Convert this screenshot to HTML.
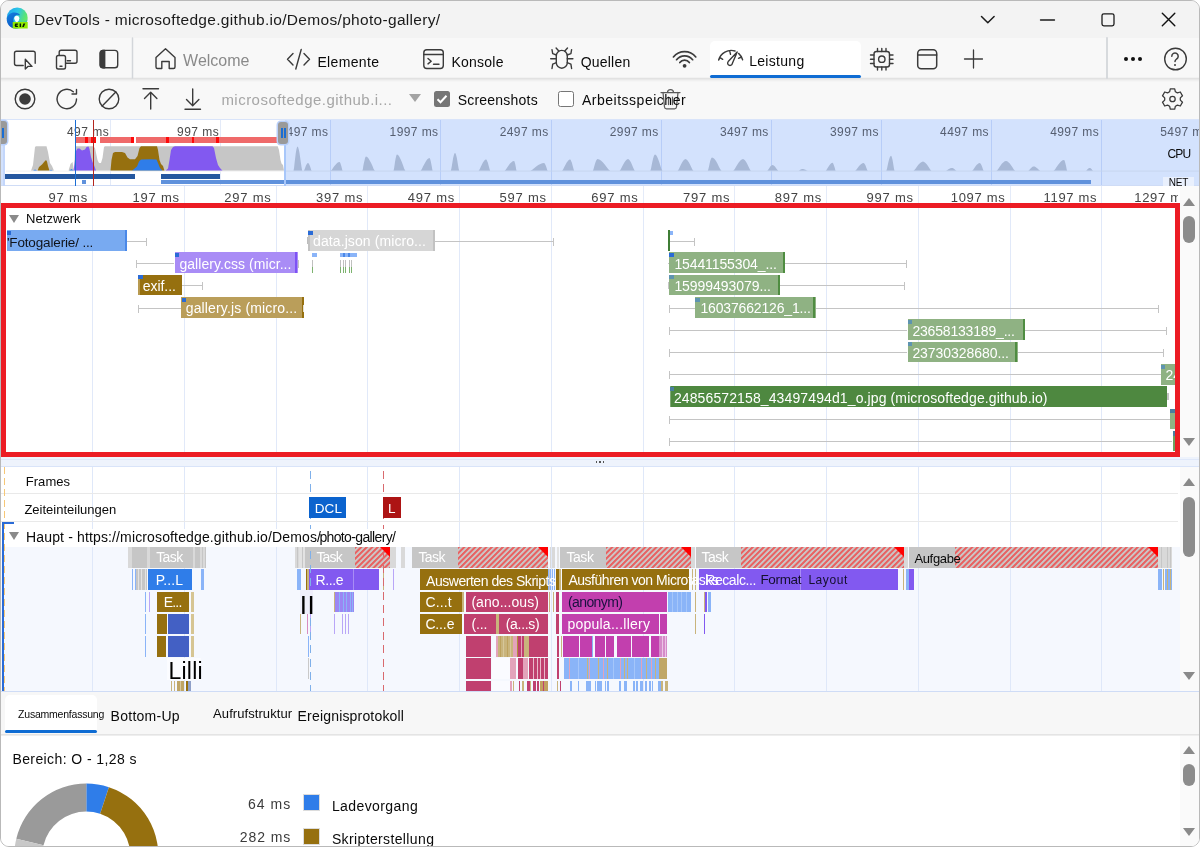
<!DOCTYPE html>
<html lang="de"><head><meta charset="utf-8"><title>DevTools - microsoftedge.github.io/Demos/photo-gallery/</title>
<style>
html,body{margin:0;padding:0;background:#fff;}
body{width:1200px;height:847px;overflow:hidden;position:relative;font-family:"Liberation Sans",sans-serif;}
#win{position:absolute;left:0;top:0;width:1198px;height:845px;border:1px solid #b9b9b9;border-radius:9px;overflow:hidden;background:#f3f3f3;}
#c{position:absolute;left:-1px;top:-1px;width:1200px;height:847px;}
.t{position:absolute;white-space:nowrap;}
.r{position:absolute;}
svg{position:absolute;overflow:visible;}
.ic{fill:none;stroke:#3b3b3b;stroke-width:1.4;stroke-linecap:round;stroke-linejoin:round;}
.hatch{position:absolute;background:repeating-linear-gradient(135deg,#e86262 0,#e86262 1.2px,#ccc5c5 2px,#ccc5c5 3.1px,#e86262 3.9px);}
.tri{position:absolute;width:0;height:0;border-top:10px solid #ff0000;border-left:10px solid transparent;}
.clip{position:absolute;overflow:hidden;}
</style></head><body><div id="win"><div id="c">
<div class="r" style="left:0.00px;top:0.00px;width:1200.00px;height:38.00px;background:#f3f3f3;"></div>
<div class="r" style="left:0.00px;top:38.00px;width:1200.00px;height:42.00px;background:#f8f8f8;"></div>
<div class="r" style="left:0.00px;top:80.00px;width:1200.00px;height:39.00px;background:#f8f8f8;"></div>
<div class="r" style="left:0.00px;top:77.00px;width:1200.00px;height:1.00px;background:#f2f2f2;"></div>
<div class="r" style="left:0.00px;top:78.00px;width:1200.00px;height:1.00px;background:#e2e2e2;"></div>
<div class="r" style="left:0.00px;top:79.00px;width:1200.00px;height:1.00px;background:#e9e9e9;"></div>
<div class="r" style="left:0.00px;top:80.00px;width:1200.00px;height:1.00px;background:#f0f0f0;"></div>
<div class="r" style="left:0.00px;top:81.00px;width:1200.00px;height:1.00px;background:#f5f5f5;"></div>
<svg style="left:0;top:0" width="40" height="40" viewBox="0 0 40 40">
<defs><linearGradient id="eg" x1="0" y1="0.2" x2="1" y2="0.6"><stop offset="0" stop-color="#1fa6ee"/><stop offset="0.45" stop-color="#2cc6e6"/><stop offset="0.8" stop-color="#56e27c"/><stop offset="1" stop-color="#6aec62"/></linearGradient>
<linearGradient id="eg2" x1="0" y1="0" x2="0.6" y2="1"><stop offset="0" stop-color="#1583e0"/><stop offset="1" stop-color="#0a50c0"/></linearGradient></defs>
<circle cx="17.200" cy="18" r="10.500" fill="url(#eg)"/>
<path d="M6.800 18.500c.6-3.400 3.600-6 7.600-6 2.600 0 4.700 1.100 5.700 2.700-1.300-.600-2.600-.700-3.700-.300-2.600 1-3.600 3.800-2.900 6.600.6 2.600 2.600 5 5.300 6.500-1 .300-2.100.500-3.200.500-5.400 0-9.300-4.600-8.800-10z" fill="url(#eg2)"/>
<path d="M19.300 21.300c1.700.9 4.200.7 6.200-.3 1-.5 1.800-1.300 2.200-2-.2 2.500-1.500 4.800-3.400 6.400h-6.300c-1.600-1.500-2.200-3.300-2.300-4.300z" fill="#2ab1d8" opacity="0.550"/>
<circle cx="16.800" cy="18.300" r="2.500" fill="#ffffff"/>
<path d="M15 19.500c0 1.200.6 2.300 1.600 3.200l2.300-2.200-1.500-2z" fill="#ffffff"/>
<rect x="12.700" y="22" width="15" height="6.500" fill="#8fe900"/>
<path d="M15.300 23.600h2.600v1.200h-1.400v.9h1.400v1.300h-2.600l-.7-1.700z M19.600 23.600h1.500v3.400h-1.500z M23.400 23.600h1.900l-1.500 3.400h-1.600z" fill="#061a00"/>
</svg>
<span class="t" style="left:33.90px;top:12.00px;font-size:15.5px;line-height:15.5px;color:#1a1a1a;letter-spacing:0.311px;">DevTools - microsoftedge.github.io/Demos/photo-gallery/</span>
<svg style="left:975px;top:8px" width="210" height="24" viewBox="975 8 210 24" class="ic" stroke="#1b1b1b">
<path d="M981.500 16.500l6.300 6.300 6.300-6.300" stroke="#1b1b1b" stroke-width="1.500"/>
<path d="M1040.500 20h14" stroke="#1b1b1b" stroke-width="1.300"/>
<rect x="1102" y="13.800" width="12" height="12" rx="1.800" stroke="#1b1b1b" stroke-width="1.300"/>
<path d="M1162.300 13.300l12.500 12.500M1174.800 13.300l-12.500 12.500" stroke="#111" stroke-width="1.400"/>
</svg>
<svg style="left:0;top:38px" width="1200" height="42" viewBox="0 38 1200 42" class="ic">
<!-- inspect -->
<path d="M23.200 65.500h-6.700a2 2 0 0 1-2-2v-10.300a2 2 0 0 1 2-2h16.700a2 2 0 0 1 2 2v10"/>
<path d="M25.300 59.300v9.700l2.600-2.600h4.100z" />
<!-- device -->
<path d="M59.200 54.800v-2.600a2 2 0 0 1 2-2h13.800a2 2 0 0 1 2 2v9a2 2 0 0 1-2 2h-8.800"/>
<rect x="56.500" y="55.500" width="9" height="13.500" rx="1.800"/>
<path d="M60 66.200h2M67.200 60.700h3.300"/>
<!-- dock -->
<rect x="100.200" y="50.400" width="17.500" height="17.300" rx="2.800"/>
<path d="M100.200 53.200a2.800 2.800 0 0 1 2.800-2.800h1.700v17.300h-1.700a2.800 2.800 0 0 1-2.800-2.800z" fill="#3b3b3b"/>
<!-- sep -->
<path d="M132.500 38v40" stroke="#d3d6da" stroke-width="1.500"/>
<!-- home -->
<path d="M156 57.500l9.500-8.700 9.500 8.700v9.500a1.500 1.500 0 0 1-1.500 1.500h-4.300v-7h-7.400v7h-4.300a1.500 1.500 0 0 1-1.500-1.500z"/>
<!-- elements -->
<path d="M293 53.500l-5.500 5.700 5.500 5.700M304 53.500l5.500 5.700-5.500 5.700M301.200 49.500l-5.400 19.500"/>
<!-- console -->
<rect x="423.800" y="49.700" width="19.500" height="18.800" rx="3"/>
<path d="M423.800 54.500h19.500M428 58.500l3.200 2.700-3.200 2.700M433.500 64.200h5.500"/>
<!-- bug -->
<rect x="556.300" y="50.400" width="11" height="17.800" rx="5.500"/>
<path d="M558.800 51l-2.700-3M564.800 51l2.700-3M556.300 58.800h-5.600M567.300 58.800h5.600M556.400 55l-3.700-1.300-.7-4M567.200 55l3.700-1.300.7-4M556.400 62.600l-3.700 1.500-.7 4.400M567.200 62.600l3.700 1.500.7 4.400"/>
<!-- wifi -->
<path d="M673.41 56.94A14.4 14.4 0 0 1 695.79 56.94M676.56 59.72A10.2 10.2 0 0 1 692.64 59.72M679.83 62.53A5.9 5.9 0 0 1 689.37 62.53" stroke-width="1.700"/>
<circle cx="684.600" cy="65.800" r="1.900" fill="#3b3b3b" stroke="none"/>
</svg>
<span class="t" style="left:183.10px;top:53.00px;font-size:16px;line-height:16px;color:#8a8a8a;letter-spacing:-0.022px;">Welcome</span>
<span class="t" style="left:317.40px;top:55.00px;font-size:14px;line-height:14px;color:#0a0a0a;letter-spacing:0.342px;">Elemente</span>
<span class="t" style="left:451.40px;top:55.00px;font-size:14px;line-height:14px;color:#0a0a0a;letter-spacing:0.241px;">Konsole</span>
<span class="t" style="left:580.70px;top:55.00px;font-size:14px;line-height:14px;color:#0a0a0a;letter-spacing:0.214px;">Quellen</span>
<div class="r" style="left:709.50px;top:40.50px;width:151.00px;height:37.00px;background:#ffffff;border-radius:5px 5px 0 0;"></div>
<div class="r" style="left:709.50px;top:74.80px;width:151.00px;height:3.60px;background:#0f6cd3;border-radius:2px;"></div>
<span class="t" style="left:749.20px;top:54.00px;font-size:14px;line-height:14px;color:#0a0a0a;letter-spacing:0.301px;">Leistung</span>
<svg style="left:0;top:38px" width="1200" height="42" viewBox="0 38 1200 42" class="ic">
<!-- gauge -->
<path d="M718.600 60a13 13 0 0 1 16.400-9M738.600 53.400a13 13 0 0 1 4 6.400M718.600 60l1.500-2.300 2.600 1.600M729.700 50.800l.8 3.600M742.600 59.800l-1.300-2.800-2.800 1.300"/>
<path d="M737.200 52l-4.900 11.600a2.350 2.350 0 1 1-4.100-2z"/>
<!-- cpu -->
<rect x="874" y="51.500" width="15.500" height="15.500" rx="2.500"/>
<circle cx="881.800" cy="59.200" r="3.200"/>
<path d="M877.500 48.500v3M881.800 48.500v3M886 48.500v3M877.500 67v3M881.800 67v3M886 67v3M870.500 55h3.500M870.500 59.200h3.500M870.500 63.500h3.500M889.500 55h3.500M889.500 59.200h3.500M889.500 63.500h3.500"/>
<!-- window -->
<rect x="917.700" y="49.700" width="19" height="19" rx="3.500" stroke-width="1.500"/>
<path d="M917.700 55h19" stroke-width="1.500"/>
<!-- plus -->
<path d="M964.500 59h18M973.500 50v18" stroke-width="1.300"/>
<!-- sep -->
<path d="M1107 38v40" stroke="#d3d6da" stroke-width="1.800"/>
<!-- help -->
<circle cx="1175.500" cy="59" r="10.800"/>
<path d="M1171.800 56.200a3.200 3.200 0 1 1 4.800 2.800c-1 .7-1.600 1.300-1.600 2.600" stroke-width="1.500"/>
<circle cx="1175" cy="65" r="1" fill="#3b3b3b" stroke="none"/>
</svg>
<div class="r" style="left:1124px;top:57px;width:4px;height:4px;border-radius:2px;background:#111"></div>
<div class="r" style="left:1131px;top:57px;width:4px;height:4px;border-radius:2px;background:#111"></div>
<div class="r" style="left:1138.3px;top:57px;width:4px;height:4px;border-radius:2px;background:#111"></div>
<svg style="left:0;top:80px" width="1200" height="40" viewBox="0 80 1200 40" class="ic">
<circle cx="25" cy="99" r="9.800"/><circle cx="25" cy="99" r="5.800" fill="#3b3b3b" stroke="none"/>
<path d="M76.500 99a9.700 9.700 0 1 1-3.200-7.200M76.500 89.500v4.500h-4.500" />
<circle cx="109" cy="99" r="9.800"/><path d="M102.200 106l13.600-14"/>
<path d="M143 88.800h15.500M150.700 109v-16.500M144.500 98.500l6.200-6.200 6.200 6.200"/>
<path d="M185 109.200h15.500M192.700 89v16.500M186.500 99.500l6.200 6.200 6.200-6.200"/>
<!-- trash -->
<path stroke="#5a5a5a" stroke-width="1.250" d="M661 92.500h19M667.500 92.500a3 3 0 0 1 6 0M663 92.500l1.500 14.500a2 2 0 0 0 2 1.800h8a2 2 0 0 0 2-1.800l1.500-14.500M668.500 97v7.500M672.500 97v7.500"/>
<!-- gear -->
<path d="M1170.300 88.800h4.400l.7 3 2 1.100 2.900-.9 2.200 3.800-2.200 2.100v2.200l2.200 2.100-2.200 3.800-2.900-.9-2 1.100-.7 3h-4.400l-.7-3-2-1.100-2.900.9-2.200-3.800 2.200-2.100v-2.200l-2.200-2.100 2.200-3.800 2.900.9 2-1.100z" stroke-width="1.300"/>
<circle cx="1172.500" cy="99" r="2.700" stroke-width="1.300"/>
</svg>
<span class="t" style="left:221.40px;top:92.00px;font-size:15px;line-height:15px;color:#a6a6a6;letter-spacing:0.475px;">microsoftedge.github.i...</span>
<div class="r" style="left:408.500px;top:94px;width:0;height:0;border-left:6px solid transparent;border-right:6px solid transparent;border-top:8px solid #a3a3a3"></div>
<div class="r" style="left:434.00px;top:91.00px;width:16.00px;height:16.00px;background:#767676;border-radius:2.500px;"></div>
<svg style="left:434px;top:91px" width="16" height="16" viewBox="0 0 16 16"><path d="M3.500 8.300l3 3 6-6.500" fill="none" stroke="#fff" stroke-width="2"/></svg>
<span class="t" style="left:457.70px;top:93.00px;font-size:14px;line-height:14px;color:#0a0a0a;letter-spacing:0.212px;">Screenshots</span>
<div class="r" style="left:558.00px;top:91.00px;width:14.00px;height:14.00px;background:#ffffff;border:1px solid #767676;border-radius:2.500px;"></div>
<span class="t" style="left:581.90px;top:93.00px;font-size:14px;line-height:14px;color:#0a0a0a;letter-spacing:0.518px;">Arbeitsspeicher</span>
<div class="r" style="left:0.00px;top:119.00px;width:1200.00px;height:67.00px;background:#d3e2fd;"></div>
<div class="r" style="left:3.00px;top:119.00px;width:282.00px;height:67.00px;background:#ffffff;"></div>
<div class="r" style="left:0.00px;top:119.00px;width:1200.00px;height:1.00px;background:#d9e4fa;"></div>
<div class="r" style="left:110.10px;top:120.00px;width:1.00px;height:65.00px;background:#e3eaf8;"></div>
<div class="r" style="left:220.20px;top:120.00px;width:1.00px;height:65.00px;background:#e3eaf8;"></div>
<div class="r" style="left:330.30px;top:120.00px;width:1.00px;height:65.00px;background:#b7cdf8;"></div>
<div class="r" style="left:440.40px;top:120.00px;width:1.00px;height:65.00px;background:#b7cdf8;"></div>
<div class="r" style="left:550.50px;top:120.00px;width:1.00px;height:65.00px;background:#b7cdf8;"></div>
<div class="r" style="left:660.60px;top:120.00px;width:1.00px;height:65.00px;background:#b7cdf8;"></div>
<div class="r" style="left:770.70px;top:120.00px;width:1.00px;height:65.00px;background:#b7cdf8;"></div>
<div class="r" style="left:880.80px;top:120.00px;width:1.00px;height:65.00px;background:#b7cdf8;"></div>
<div class="r" style="left:990.90px;top:120.00px;width:1.00px;height:65.00px;background:#b7cdf8;"></div>
<div class="r" style="left:1101.00px;top:120.00px;width:1.00px;height:65.00px;background:#b7cdf8;"></div>
<div class="r" style="left:1211.10px;top:120.00px;width:1.00px;height:65.00px;background:#b7cdf8;"></div>
<div class="clip" style="left:0;top:119px;width:1200px;height:67px">
<span class="t" style="left:66.98px;top:7.00px;font-size:12px;line-height:12px;color:#4a4a4a;letter-spacing:0.461px;">497 ms</span>
<span class="t" style="left:177.08px;top:7.00px;font-size:12px;line-height:12px;color:#4a4a4a;letter-spacing:0.461px;">997 ms</span>
<span class="t" style="left:279.49px;top:7.00px;font-size:12px;line-height:12px;color:#555e70;letter-spacing:0.412px;">1497 ms</span>
<span class="t" style="left:389.59px;top:7.00px;font-size:12px;line-height:12px;color:#555e70;letter-spacing:0.412px;">1997 ms</span>
<span class="t" style="left:499.69px;top:7.00px;font-size:12px;line-height:12px;color:#555e70;letter-spacing:0.412px;">2497 ms</span>
<span class="t" style="left:609.79px;top:7.00px;font-size:12px;line-height:12px;color:#555e70;letter-spacing:0.412px;">2997 ms</span>
<span class="t" style="left:719.89px;top:7.00px;font-size:12px;line-height:12px;color:#555e70;letter-spacing:0.412px;">3497 ms</span>
<span class="t" style="left:829.99px;top:7.00px;font-size:12px;line-height:12px;color:#555e70;letter-spacing:0.412px;">3997 ms</span>
<span class="t" style="left:940.09px;top:7.00px;font-size:12px;line-height:12px;color:#555e70;letter-spacing:0.412px;">4497 ms</span>
<span class="t" style="left:1050.19px;top:7.00px;font-size:12px;line-height:12px;color:#555e70;letter-spacing:0.412px;">4997 ms</span>
<span class="t" style="left:1160.29px;top:7.00px;font-size:12px;line-height:12px;color:#555e70;letter-spacing:0.412px;">5497 ms</span>
</div>
<svg style="left:0;top:0" width="1200" height="190" viewBox="0 0 1200 190">
<path fill="#c6c6c6" d="M31.0 170.8 L33.0 165.0 L35.0 147.0 L36.0 146.2 L46.5 146.2 L48.0 152.0 L50.0 163.0 L52.0 166.0 L54.0 170.8Z"/>
<path fill="#c6c6c6" d="M68.5 170.8 L70.5 164.0 L72.5 162.0 L74.0 170.8Z"/>
<path fill="#c6c6c6" d="M74.0 170.8 L75.0 150.0 L76.0 146.2 L89.0 146.2 L93.0 146.2 L95.0 148.0 L97.5 160.0 L99.0 163.0 L101.0 163.0 L102.5 158.0 L104.0 147.0 L105.0 146.2 L277.7 146.2 L279.0 150.0 L280.5 160.0 L281.5 163.5 L283.0 165.0 L284.0 170.8Z"/>
<path fill="#96700f" d="M37.5 170.8 L39.0 167.0 L42.0 164.5 L44.5 161.5 L46.0 160.0 L47.0 161.5 L48.0 166.0 L49.5 170.8Z"/>
<path fill="#2f7de9" d="M33.0 170.8 L35.0 169.6 L37.5 170.8Z"/>
<path fill="#2f7de9" d="M49.0 170.8 L51.0 169.8 L53.0 170.8Z"/>
<path fill="#2f7de9" d="M69.0 170.8 L71.5 169.0 L74.0 170.8Z"/>
<path fill="#8259f0" d="M73.5 170.8 L74.5 164.0 L76.0 151.0 L77.5 148.5 L79.5 148.5 L82.0 150.5 L85.0 149.5 L86.5 147.0 L88.5 146.5 L89.5 149.0 L91.0 157.0 L92.5 162.0 L94.0 165.0 L96.0 170.8Z"/>
<path fill="#96700f" d="M110.5 170.8 L111.5 160.0 L113.0 153.0 L115.0 152.0 L122.0 152.0 L125.0 153.0 L127.5 157.5 L130.0 159.2 L135.0 159.2 L137.5 156.0 L139.5 148.0 L141.0 146.2 L157.0 146.2 L158.0 150.0 L159.5 160.0 L161.0 164.0 L163.0 166.0 L164.5 170.8Z"/>
<path fill="#2f7de9" d="M132.0 170.8 L134.0 169.0 L137.0 166.5 L139.0 161.5 L141.0 159.6 L150.0 159.2 L156.5 159.6 L158.0 163.0 L160.0 168.0 L162.5 170.8Z"/>
<path fill="#8259f0" d="M165.5 170.8 L168.0 168.5 L169.5 160.0 L171.0 150.0 L173.0 147.0 L175.0 146.2 L212.5 146.2 L214.0 148.0 L216.0 158.0 L218.0 165.0 L220.0 168.0 L222.5 170.8Z"/>
<path fill="#a7b8d6" d="M293.5 170.8 L294.1 167.6 L294.6 162.8 L295.2 157.7 L295.8 153.1 L296.4 149.4 L297.0 147.2 L297.5 146.5 L298.1 147.2 L298.8 149.4 L299.5 153.1 L300.2 157.7 L300.9 162.8 L301.6 167.6 L302.2 170.8Z"/>
<path fill="#a7b8d6" d="M303.8 170.8 L304.4 169.8 L305.0 168.2 L305.6 166.6 L306.2 165.1 L306.9 163.9 L307.4 163.2 L308.0 163.0 L308.5 163.2 L309.0 163.9 L309.5 165.1 L310.1 166.6 L310.7 168.2 L311.1 169.8 L311.7 170.8Z"/>
<path fill="#a7b8d6" d="M330.6 170.8 L331.9 169.7 L333.0 167.9 L334.4 166.0 L335.8 164.4 L337.1 163.1 L338.3 162.3 L339.5 162.0 L339.9 162.3 L340.3 163.1 L340.8 164.4 L341.3 166.0 L341.8 167.9 L342.2 169.7 L342.6 170.8Z"/>
<path fill="#a7b8d6" d="M362.3 170.8 L362.9 168.9 L363.3 166.1 L363.9 163.1 L364.5 160.4 L365.0 158.2 L365.5 156.9 L366.0 156.5 L367.2 156.9 L368.4 158.2 L369.7 160.4 L371.1 163.1 L372.5 166.1 L373.6 168.9 L374.9 170.8Z"/>
<path fill="#a7b8d6" d="M393.5 170.8 L394.0 168.7 L394.5 165.4 L395.0 162.0 L395.5 158.9 L396.1 156.5 L396.5 155.0 L397.0 154.5 L398.1 155.0 L399.2 156.5 L400.5 158.9 L401.8 162.0 L403.1 165.4 L404.2 168.7 L405.4 170.8Z"/>
<path fill="#a7b8d6" d="M420.6 170.8 L421.9 169.1 L423.0 166.6 L424.4 163.9 L425.8 161.5 L427.1 159.5 L428.3 158.4 L429.5 158.0 L429.9 158.4 L430.3 159.5 L430.8 161.5 L431.3 163.9 L431.8 166.6 L432.2 169.1 L432.6 170.8Z"/>
<path fill="#a7b8d6" d="M450.8 170.8 L451.4 168.5 L452.0 164.9 L452.6 161.2 L453.2 157.8 L453.9 155.1 L454.4 153.5 L455.0 153.0 L455.6 153.5 L456.1 155.1 L456.8 157.8 L457.4 161.2 L458.0 164.9 L458.6 168.5 L459.2 170.8Z"/>
<path fill="#a7b8d6" d="M478.6 170.8 L479.7 169.3 L480.7 167.1 L481.8 164.7 L482.9 162.6 L484.0 160.9 L485.0 159.8 L486.0 159.5 L486.6 159.8 L487.1 160.9 L487.8 162.6 L488.4 164.7 L489.0 167.1 L489.6 169.3 L490.2 170.8Z"/>
<path fill="#a7b8d6" d="M504.6 170.8 L505.9 169.5 L507.2 167.6 L508.6 165.5 L510.0 163.6 L511.5 162.2 L512.7 161.3 L514.0 161.0 L514.4 161.3 L514.7 162.2 L515.1 163.6 L515.5 165.5 L515.9 167.6 L516.2 169.5 L516.6 170.8Z"/>
<path fill="#a7b8d6" d="M530.4 170.8 L532.3 169.8 L534.1 168.2 L536.2 166.6 L538.3 165.1 L540.4 163.9 L542.2 163.2 L544.0 163.0 L544.5 163.2 L545.0 163.9 L545.5 165.1 L546.1 166.6 L546.7 168.2 L547.1 169.8 L547.7 170.8Z"/>
<path fill="#a7b8d6" d="M562.1 170.8 L563.2 169.3 L564.3 167.1 L565.5 164.7 L566.7 162.6 L567.9 160.9 L569.0 159.8 L570.0 159.5 L570.6 159.8 L571.1 160.9 L571.8 162.6 L572.4 164.7 L573.0 167.1 L573.6 169.3 L574.2 170.8Z"/>
<path fill="#a7b8d6" d="M592.8 170.8 L593.5 169.3 L594.1 166.9 L594.8 164.4 L595.5 162.2 L596.2 160.4 L596.9 159.4 L597.5 159.0 L599.2 159.4 L600.9 160.4 L602.8 162.2 L604.7 164.4 L606.6 166.9 L608.3 169.3 L610.1 170.8Z"/>
<path fill="#a7b8d6" d="M619.6 170.8 L620.8 169.3 L621.9 166.9 L623.2 164.4 L624.5 162.2 L625.8 160.4 L626.9 159.4 L628.0 159.0 L628.9 159.4 L629.8 160.4 L630.9 162.2 L631.9 164.4 L632.9 166.9 L633.9 169.3 L634.8 170.8Z"/>
<path fill="#a7b8d6" d="M650.3 170.8 L651.0 168.7 L651.6 165.4 L652.3 162.0 L653.0 158.9 L653.7 156.5 L654.4 155.0 L655.0 154.5 L656.0 155.0 L657.0 156.5 L658.1 158.9 L659.2 162.0 L660.3 165.4 L661.3 168.7 L662.4 170.8Z"/>
<path fill="#a7b8d6" d="M677.6 170.8 L678.8 169.3 L679.8 166.9 L681.0 164.4 L682.2 162.2 L683.4 160.4 L684.5 159.4 L685.5 159.0 L686.5 159.4 L687.6 160.4 L688.8 162.2 L690.0 164.4 L691.2 166.9 L692.2 169.3 L693.4 170.8Z"/>
<path fill="#a7b8d6" d="M707.8 170.8 L708.4 169.1 L709.0 166.4 L709.6 163.6 L710.2 161.1 L710.9 159.1 L711.4 157.9 L712.0 157.5 L713.3 157.9 L714.5 159.1 L716.0 161.1 L717.4 163.6 L718.8 166.4 L720.1 169.1 L721.5 170.8Z"/>
<path fill="#a7b8d6" d="M733.2 170.8 L734.6 169.3 L735.9 166.9 L737.4 164.4 L738.9 162.2 L740.4 160.4 L741.7 159.4 L743.0 159.0 L744.0 159.4 L745.1 160.4 L746.3 162.2 L747.5 164.4 L748.7 166.9 L749.8 169.3 L750.9 170.8Z"/>
<path fill="#a7b8d6" d="M767.2 170.8 L768.0 170.0 L768.7 168.9 L769.5 167.7 L770.3 166.6 L771.1 165.7 L771.8 165.2 L772.5 165.0 L773.3 165.2 L774.0 165.7 L774.9 166.6 L775.8 167.7 L776.7 168.9 L777.5 170.0 L778.3 170.8Z"/>
<path fill="#a7b8d6" d="M798.5 170.8 L799.1 170.6 L799.6 170.2 L800.2 169.8 L800.8 169.5 L801.4 169.2 L802.0 169.1 L802.5 169.0 L803.2 169.1 L803.9 169.2 L804.7 169.5 L805.5 169.8 L806.3 170.2 L807.0 170.6 L807.8 170.8Z"/>
<path fill="#a7b8d6" d="M825.7 170.8 L826.6 169.7 L827.6 168.1 L828.6 166.4 L829.6 164.9 L830.7 163.7 L831.6 162.9 L832.5 162.7 L832.9 162.9 L833.3 163.7 L833.8 164.9 L834.3 166.4 L834.8 168.1 L835.2 169.7 L835.6 170.8Z"/>
<path fill="#a7b8d6" d="M855.1 170.8 L856.3 169.8 L857.4 168.2 L858.7 166.6 L860.0 165.1 L861.3 163.9 L862.4 163.2 L863.5 163.0 L864.1 163.2 L864.6 163.9 L865.3 165.1 L865.9 166.6 L866.5 168.2 L867.1 169.8 L867.7 170.8Z"/>
<path fill="#a7b8d6" d="M886.3 170.8 L887.0 168.8 L887.6 165.8 L888.3 162.6 L889.0 159.8 L889.7 157.5 L890.4 156.2 L891.0 155.7 L891.5 156.2 L891.9 157.5 L892.5 159.8 L893.0 162.6 L893.5 165.8 L894.0 168.8 L894.5 170.8Z"/>
<path fill="#a7b8d6" d="M913.5 170.8 L914.9 169.6 L916.2 167.8 L917.6 165.8 L919.0 164.1 L920.5 162.7 L921.7 161.9 L923.0 161.6 L924.1 161.9 L925.2 162.7 L926.5 164.1 L927.8 165.8 L929.1 167.8 L930.2 169.6 L931.4 170.8Z"/>
<path fill="#a7b8d6" d="M945.7 170.8 L946.6 170.4 L947.4 169.9 L948.4 169.3 L949.4 168.8 L950.3 168.3 L951.2 168.1 L952.0 168.0 L952.6 168.1 L953.2 168.3 L953.9 168.8 L954.6 169.3 L955.3 169.9 L956.0 170.4 L956.6 170.8Z"/>
<path fill="#a7b8d6" d="M972.1 170.8 L973.2 169.8 L974.2 168.2 L975.4 166.6 L976.5 165.1 L977.7 163.9 L978.7 163.2 L979.7 163.0 L980.2 163.2 L980.8 163.9 L981.4 165.1 L982.0 166.6 L982.6 168.2 L983.1 169.8 L983.7 170.8Z"/>
<path fill="#a7b8d6" d="M996.5 170.8 L997.9 169.5 L999.2 167.6 L1000.6 165.5 L1002.0 163.6 L1003.5 162.2 L1004.7 161.3 L1006.0 161.0 L1007.2 161.3 L1008.4 162.2 L1009.8 163.6 L1011.2 165.5 L1012.6 167.6 L1013.8 169.5 L1015.1 170.8Z"/>
<path fill="#a7b8d6" d="M1028.2 170.8 L1029.0 170.2 L1029.7 169.4 L1030.6 168.5 L1031.4 167.7 L1032.2 167.0 L1033.0 166.6 L1033.7 166.5 L1034.6 166.6 L1035.5 167.0 L1036.5 167.7 L1037.5 168.5 L1038.5 169.4 L1039.4 170.2 L1040.3 170.8Z"/>
<path fill="#a7b8d6" d="M1053.5 170.8 L1055.0 169.4 L1056.4 167.2 L1058.0 165.0 L1059.6 162.9 L1061.2 161.3 L1062.6 160.3 L1064.0 160.0 L1064.4 160.3 L1064.8 161.3 L1065.3 162.9 L1065.8 165.0 L1066.3 167.2 L1066.7 169.4 L1067.2 170.8Z"/>
<path fill="#a7b8d6" d="M1085.8 170.8 L1086.4 170.4 L1086.9 169.9 L1087.5 169.3 L1088.1 168.8 L1088.7 168.3 L1089.2 168.1 L1089.7 168.0 L1090.2 168.1 L1090.6 168.3 L1091.2 168.8 L1091.7 169.3 L1092.2 169.9 L1092.7 170.4 L1093.2 170.8Z"/>
<path d="M286 171.10000000000002H1200" stroke="#c5d3ee" stroke-width="0.800"/>
<path d="M6 171.10000000000002H285" stroke="#ececec" stroke-width="0.800"/>
</svg>
<div class="r" style="left:76.00px;top:136.70px;width:20.20px;height:6.00px;background:#ef6a6a;"></div>
<div class="r" style="left:99.70px;top:136.70px;width:34.10px;height:6.00px;background:#ef6a6a;"></div>
<div class="r" style="left:136.00px;top:136.70px;width:141.50px;height:6.00px;background:#ef6a6a;"></div>
<div class="r" style="left:85.00px;top:136.70px;width:3.00px;height:6.00px;background:#ff0a0a;"></div>
<div class="r" style="left:91.00px;top:136.70px;width:5.20px;height:6.00px;background:#ff0a0a;"></div>
<div class="r" style="left:130.80px;top:136.70px;width:3.00px;height:6.00px;background:#ff0a0a;"></div>
<div class="r" style="left:165.70px;top:136.70px;width:3.30px;height:6.00px;background:#ff0a0a;"></div>
<div class="r" style="left:191.50px;top:136.70px;width:2.70px;height:6.00px;background:#ff0a0a;"></div>
<div class="r" style="left:215.80px;top:136.70px;width:3.40px;height:6.00px;background:#ff0a0a;"></div>
<div class="r" style="left:3.80px;top:174.40px;width:131.20px;height:4.60px;background:#24579f;"></div>
<div class="r" style="left:160.70px;top:174.40px;width:59.00px;height:4.60px;background:#24579f;"></div>
<div class="r" style="left:160.70px;top:180.20px;width:930.80px;height:3.60px;background:#5f91dc;"></div>
<div class="r" style="left:82.00px;top:180.20px;width:4.00px;height:4.00px;background:#5f91dc;"></div>
<div class="r" style="left:0.00px;top:184.60px;width:1200.00px;height:1.20px;background:#cfdcf6;"></div>
<div class="r" style="left:75.00px;top:120.00px;width:1.30px;height:65.50px;background:#1a6dd4;"></div>
<div class="r" style="left:93.20px;top:120.00px;width:1.30px;height:65.50px;background:#b3261e;"></div>
<div class="r" style="left:283.50px;top:144.00px;width:2.50px;height:41.50px;background:#a8c7fa;"></div>
<div class="r" style="left:3.00px;top:144.00px;width:1.50px;height:41.50px;background:#c4d7fb;"></div>
<div class="r" style="left:1.00px;top:121.30px;width:5.50px;height:23.00px;background:#9a9a9a;border-radius:0 3px 3px 0;box-shadow:0 0 0 1.500px #b9d0fb;"></div>
<div class="r" style="left:2.30px;top:128.00px;width:1.80px;height:9.50px;background:#1a6dd4;"></div>
<div class="r" style="left:277.70px;top:121.50px;width:10.50px;height:22.50px;background:#9a9a9a;border-radius:3px;box-shadow:0 0 0 1.500px #b9d0fb;"></div>
<div class="r" style="left:280.50px;top:128.00px;width:2.00px;height:9.50px;background:#1a6dd4;"></div>
<div class="r" style="left:284.30px;top:128.00px;width:2.00px;height:9.50px;background:#1a6dd4;"></div>
<span class="t" style="left:1167.40px;top:148.00px;font-size:12px;line-height:12px;color:#0a0a0a;letter-spacing:-0.758px;">CPU</span>
<div class="r" style="left:1163.00px;top:176.50px;width:31.00px;height:9.50px;background:#e9f0fd;"></div>
<span class="t" style="left:1168.80px;top:178.00px;font-size:10px;line-height:10px;color:#0a0a0a;letter-spacing:-0.200px;">NET</span>
<div class="r" style="left:0.00px;top:186.00px;width:1180.00px;height:20.00px;background:#ffffff;"></div>
<div class="r" style="left:1179.50px;top:186.00px;width:20.00px;height:505.00px;background:#fafafa;"></div>
<div class="clip" style="left:0;top:186px;width:1178px;height:20px">
<div class="r" style="left:92.00px;top:0.00px;width:1.00px;height:20.00px;background:#e4ebf9;"></div>
<span class="t" style="left:48.38px;top:5.00px;font-size:13px;line-height:13px;color:#444;letter-spacing:0.844px;">97 ms</span>
<div class="r" style="left:183.75px;top:0.00px;width:1.00px;height:20.00px;background:#e4ebf9;"></div>
<span class="t" style="left:132.59px;top:5.00px;font-size:13px;line-height:13px;color:#444;letter-spacing:0.755px;">197 ms</span>
<div class="r" style="left:275.50px;top:0.00px;width:1.00px;height:20.00px;background:#e4ebf9;"></div>
<span class="t" style="left:224.34px;top:5.00px;font-size:13px;line-height:13px;color:#444;letter-spacing:0.755px;">297 ms</span>
<div class="r" style="left:367.25px;top:0.00px;width:1.00px;height:20.00px;background:#e4ebf9;"></div>
<span class="t" style="left:316.09px;top:5.00px;font-size:13px;line-height:13px;color:#444;letter-spacing:0.755px;">397 ms</span>
<div class="r" style="left:459.00px;top:0.00px;width:1.00px;height:20.00px;background:#e4ebf9;"></div>
<span class="t" style="left:407.84px;top:5.00px;font-size:13px;line-height:13px;color:#444;letter-spacing:0.755px;">497 ms</span>
<div class="r" style="left:550.75px;top:0.00px;width:1.00px;height:20.00px;background:#e4ebf9;"></div>
<span class="t" style="left:499.59px;top:5.00px;font-size:13px;line-height:13px;color:#444;letter-spacing:0.755px;">597 ms</span>
<div class="r" style="left:642.50px;top:0.00px;width:1.00px;height:20.00px;background:#e4ebf9;"></div>
<span class="t" style="left:591.34px;top:5.00px;font-size:13px;line-height:13px;color:#444;letter-spacing:0.755px;">697 ms</span>
<div class="r" style="left:734.25px;top:0.00px;width:1.00px;height:20.00px;background:#e4ebf9;"></div>
<span class="t" style="left:683.09px;top:5.00px;font-size:13px;line-height:13px;color:#444;letter-spacing:0.755px;">797 ms</span>
<div class="r" style="left:826.00px;top:0.00px;width:1.00px;height:20.00px;background:#e4ebf9;"></div>
<span class="t" style="left:774.84px;top:5.00px;font-size:13px;line-height:13px;color:#444;letter-spacing:0.755px;">897 ms</span>
<div class="r" style="left:917.75px;top:0.00px;width:1.00px;height:20.00px;background:#e4ebf9;"></div>
<span class="t" style="left:866.59px;top:5.00px;font-size:13px;line-height:13px;color:#444;letter-spacing:0.755px;">997 ms</span>
<div class="r" style="left:1009.50px;top:0.00px;width:1.00px;height:20.00px;background:#e4ebf9;"></div>
<span class="t" style="left:950.77px;top:5.00px;font-size:13px;line-height:13px;color:#444;letter-spacing:0.695px;">1097 ms</span>
<div class="r" style="left:1101.25px;top:0.00px;width:1.00px;height:20.00px;background:#e4ebf9;"></div>
<span class="t" style="left:1043.55px;top:5.00px;font-size:13px;line-height:13px;color:#444;letter-spacing:0.687px;">1197 ms</span>
<div class="r" style="left:1193.00px;top:0.00px;width:1.00px;height:20.00px;background:#e4ebf9;"></div>
<span class="t" style="left:1134.27px;top:5.00px;font-size:13px;line-height:13px;color:#444;letter-spacing:0.695px;">1297 ms</span>
</div>
<div class="r" style="left:0.00px;top:206.00px;width:1180.00px;height:251.00px;background:#ffffff;"></div>
<div class="r" style="left:92.00px;top:206.00px;width:1.00px;height:251.00px;background:#e1e9f9;"></div>
<div class="r" style="left:183.75px;top:206.00px;width:1.00px;height:251.00px;background:#e1e9f9;"></div>
<div class="r" style="left:275.50px;top:206.00px;width:1.00px;height:251.00px;background:#e1e9f9;"></div>
<div class="r" style="left:367.25px;top:206.00px;width:1.00px;height:251.00px;background:#e1e9f9;"></div>
<div class="r" style="left:459.00px;top:206.00px;width:1.00px;height:251.00px;background:#e1e9f9;"></div>
<div class="r" style="left:550.75px;top:206.00px;width:1.00px;height:251.00px;background:#e1e9f9;"></div>
<div class="r" style="left:642.50px;top:206.00px;width:1.00px;height:251.00px;background:#e1e9f9;"></div>
<div class="r" style="left:734.25px;top:206.00px;width:1.00px;height:251.00px;background:#e1e9f9;"></div>
<div class="r" style="left:826.00px;top:206.00px;width:1.00px;height:251.00px;background:#e1e9f9;"></div>
<div class="r" style="left:917.75px;top:206.00px;width:1.00px;height:251.00px;background:#e1e9f9;"></div>
<div class="r" style="left:1009.50px;top:206.00px;width:1.00px;height:251.00px;background:#e1e9f9;"></div>
<div class="r" style="left:1101.25px;top:206.00px;width:1.00px;height:251.00px;background:#e1e9f9;"></div>
<div class="r" style="left:9.300px;top:215px;width:0;height:0;border-left:5.300px solid transparent;border-right:5.300px solid transparent;border-top:8.300px solid #8a8a8a"></div>
<span class="t" style="left:26.10px;top:212.00px;font-size:13px;line-height:13px;color:#0a0a0a;letter-spacing:0.036px;">Netzwerk</span>
<div class="r" style="left:127.00px;top:241.00px;width:19.70px;height:1.00px;background:#c4c4c4;"></div>
<div class="r" style="left:146.00px;top:237.50px;width:1.00px;height:8.00px;background:#c4c4c4;"></div>
<div class="clip" style="left:6.70px;top:230.10px;width:120.30px;height:20.5px;background:#78aaf1">
<div class="r" style="left:118.00px;top:0.00px;width:2.30px;height:20.50px;background:#4a88e8;"></div>
<div class="r" style="left:0.30px;top:0.50px;width:4.50px;height:4.20px;background:#2a6bd6;"></div>
<span class="t" style="left:0.20px;top:5.90px;font-size:13.5px;line-height:13.5px;color:#10131a;letter-spacing:-0.149px;">'Fotogalerie/ ...</span>
</div>
<div class="r" style="left:435.00px;top:241.00px;width:118.50px;height:1.00px;background:#c4c4c4;"></div>
<div class="r" style="left:553.00px;top:237.50px;width:1.00px;height:8.00px;background:#c4c4c4;"></div>
<div class="r" style="left:306.50px;top:237.00px;width:1.50px;height:7.00px;background:#bdbdbd;"></div>
<div class="clip" style="left:308.00px;top:230.10px;width:127.00px;height:20.5px;background:#d6d6d6">
<div class="r" style="left:124.70px;top:0.00px;width:2.30px;height:20.50px;background:#c2c2c2;"></div>
<div class="r" style="left:0.00px;top:0.00px;width:1.50px;height:20.50px;background:#c2c2c2;"></div>
<div class="r" style="left:0.30px;top:0.50px;width:4.50px;height:4.20px;background:#2a6bd6;"></div>
<span class="t" style="left:5.10px;top:3.90px;font-size:14px;line-height:14px;color:#fff;letter-spacing:0.088px;">data.json (micro...</span>
</div>
<div class="r" style="left:668.00px;top:230.10px;width:2.00px;height:20.50px;background:#3f7d35;"></div>
<div class="r" style="left:670.00px;top:231.20px;width:2.50px;height:3.40px;background:#8ab4f8;"></div>
<div class="r" style="left:670.00px;top:241.00px;width:24.40px;height:1.00px;background:#c4c4c4;"></div>
<div class="r" style="left:694.00px;top:237.50px;width:1.00px;height:8.00px;background:#c4c4c4;"></div>
<div class="r" style="left:136.70px;top:263.00px;width:37.80px;height:1.00px;background:#c4c4c4;"></div>
<div class="r" style="left:136.00px;top:259.50px;width:1.00px;height:8.00px;background:#c4c4c4;"></div>
<div class="clip" style="left:174.50px;top:252.42px;width:123.00px;height:20.5px;background:#a98cf6">
<div class="r" style="left:120.70px;top:0.00px;width:2.30px;height:20.50px;background:#7e52f5;"></div>
<div class="r" style="left:0.30px;top:0.50px;width:4.50px;height:4.20px;background:#2a6bd6;"></div>
<span class="t" style="left:4.90px;top:4.58px;font-size:14px;line-height:14px;color:#fff;letter-spacing:0.056px;">gallery.css (micr...</span>
</div>
<div class="r" style="left:297.50px;top:260.00px;width:1.30px;height:7.50px;background:#c4c4c4;"></div>
<div class="r" style="left:312.00px;top:253.02px;width:5.30px;height:4.20px;background:#8ab4f8;"></div>
<div class="r" style="left:312.00px;top:259.92px;width:1.30px;height:7.00px;background:#c0c0c0;"></div>
<div class="r" style="left:312.00px;top:266.92px;width:0.80px;height:6.00px;background:#7db36f;"></div>
<div class="r" style="left:339.50px;top:253.02px;width:3.00px;height:4.20px;background:#8ab4f8;"></div>
<div class="r" style="left:339.50px;top:259.92px;width:1.20px;height:7.00px;background:#c0c0c0;"></div>
<div class="r" style="left:339.50px;top:266.92px;width:0.80px;height:6.00px;background:#7db36f;"></div>
<div class="r" style="left:342.50px;top:253.02px;width:2.50px;height:4.20px;background:#8ab4f8;"></div>
<div class="r" style="left:342.50px;top:259.92px;width:1.20px;height:7.00px;background:#c0c0c0;"></div>
<div class="r" style="left:342.50px;top:266.92px;width:0.80px;height:6.00px;background:#7db36f;"></div>
<div class="r" style="left:345.00px;top:253.02px;width:3.50px;height:4.20px;background:#8ab4f8;"></div>
<div class="r" style="left:345.00px;top:259.92px;width:1.20px;height:7.00px;background:#c0c0c0;"></div>
<div class="r" style="left:345.00px;top:266.92px;width:0.80px;height:6.00px;background:#7db36f;"></div>
<div class="r" style="left:348.50px;top:253.02px;width:2.00px;height:4.20px;background:#8ab4f8;"></div>
<div class="r" style="left:348.50px;top:259.92px;width:1.20px;height:7.00px;background:#c0c0c0;"></div>
<div class="r" style="left:348.50px;top:266.92px;width:0.80px;height:6.00px;background:#7db36f;"></div>
<div class="r" style="left:351.00px;top:253.02px;width:6.00px;height:4.20px;background:#8ab4f8;"></div>
<div class="r" style="left:351.00px;top:259.92px;width:1.20px;height:7.00px;background:#c0c0c0;"></div>
<div class="r" style="left:351.00px;top:266.92px;width:0.80px;height:6.00px;background:#7db36f;"></div>
<div class="r" style="left:343.00px;top:253.02px;width:2.00px;height:4.20px;background:#4a88e8;"></div>
<div class="r" style="left:348.00px;top:253.02px;width:1.50px;height:4.20px;background:#4a88e8;"></div>
<div class="r" style="left:668.00px;top:263.00px;width:1.50px;height:1.00px;background:#c4c4c4;"></div>
<div class="clip" style="left:669.00px;top:252.42px;width:116.00px;height:20.5px;background:#8fb283">
<div class="r" style="left:113.70px;top:0.00px;width:2.30px;height:20.50px;background:#4f8d41;"></div>
<div class="r" style="left:0.30px;top:0.50px;width:4.50px;height:4.20px;background:#2a6bd6;"></div>
<span class="t" style="left:5.40px;top:4.58px;font-size:14px;line-height:14px;color:#fff;letter-spacing:-0.109px;">15441155304_...</span>
</div>
<div class="r" style="left:785.00px;top:263.00px;width:122.00px;height:1.00px;background:#c4c4c4;"></div>
<div class="r" style="left:906.00px;top:259.50px;width:1.00px;height:8.00px;background:#c4c4c4;"></div>
<div class="clip" style="left:138.00px;top:274.74px;width:44.00px;height:20.5px;background:#96700f">
<div class="r" style="left:0.00px;top:0.00px;width:1.50px;height:20.50px;background:#b89a50;"></div>
<div class="r" style="left:0.30px;top:0.50px;width:4.50px;height:4.20px;background:#2a6bd6;"></div>
<span class="t" style="left:4.70px;top:4.26px;font-size:14px;line-height:14px;color:#fff;letter-spacing:-0.036px;">exif...</span>
</div>
<div class="r" style="left:182.00px;top:285.00px;width:20.50px;height:1.00px;background:#c4c4c4;"></div>
<div class="r" style="left:202.00px;top:281.50px;width:1.00px;height:8.00px;background:#c4c4c4;"></div>
<div class="clip" style="left:669.00px;top:274.74px;width:111.00px;height:20.5px;background:#8fb283">
<div class="r" style="left:108.70px;top:0.00px;width:2.30px;height:20.50px;background:#4f8d41;"></div>
<div class="r" style="left:0.30px;top:0.50px;width:4.50px;height:4.20px;background:#5e94b0;"></div>
<span class="t" style="left:5.40px;top:4.26px;font-size:14px;line-height:14px;color:#fff;letter-spacing:-0.060px;">15999493079...</span>
</div>
<div class="r" style="left:780.00px;top:285.00px;width:124.40px;height:1.00px;background:#c4c4c4;"></div>
<div class="r" style="left:904.00px;top:281.50px;width:1.00px;height:8.00px;background:#c4c4c4;"></div>
<div class="r" style="left:667.50px;top:281.50px;width:1.30px;height:7.50px;background:#c4c4c4;"></div>
<div class="r" style="left:138.30px;top:308.00px;width:43.00px;height:1.00px;background:#c4c4c4;"></div>
<div class="r" style="left:138.00px;top:304.50px;width:1.00px;height:8.00px;background:#c4c4c4;"></div>
<div class="clip" style="left:181.30px;top:297.06px;width:123.00px;height:20.5px;background:#ba9e5a">
<div class="r" style="left:120.70px;top:0.00px;width:2.30px;height:20.50px;background:#96700f;"></div>
<div class="r" style="left:0.30px;top:0.50px;width:4.50px;height:4.20px;background:#2a6bd6;"></div>
<span class="t" style="left:4.40px;top:3.94px;font-size:14px;line-height:14px;color:#fff;letter-spacing:0.152px;">gallery.js (micro...</span>
</div>
<div class="r" style="left:303.00px;top:304.50px;width:1.30px;height:7.00px;background:#e6e0d0;"></div>
<div class="r" style="left:669.60px;top:308.00px;width:25.40px;height:1.00px;background:#c4c4c4;"></div>
<div class="r" style="left:669.00px;top:304.50px;width:1.00px;height:8.00px;background:#c4c4c4;"></div>
<div class="clip" style="left:695.00px;top:297.06px;width:120.50px;height:20.5px;background:#8fb283">
<div class="r" style="left:118.20px;top:0.00px;width:2.30px;height:20.50px;background:#4f8d41;"></div>
<div class="r" style="left:0.30px;top:0.50px;width:4.50px;height:4.20px;background:#5e94b0;"></div>
<span class="t" style="left:5.40px;top:3.94px;font-size:14px;line-height:14px;color:#fff;letter-spacing:-0.157px;">16037662126_1...</span>
</div>
<div class="r" style="left:815.50px;top:308.00px;width:343.20px;height:1.00px;background:#c4c4c4;"></div>
<div class="r" style="left:1158.00px;top:304.50px;width:1.00px;height:8.00px;background:#c4c4c4;"></div>
<div class="r" style="left:669.60px;top:330.00px;width:237.90px;height:1.00px;background:#c4c4c4;"></div>
<div class="r" style="left:669.00px;top:326.50px;width:1.00px;height:8.00px;background:#c4c4c4;"></div>
<div class="clip" style="left:907.50px;top:319.38px;width:117.50px;height:20.5px;background:#8fb283">
<div class="r" style="left:115.20px;top:0.00px;width:2.30px;height:20.50px;background:#4f8d41;"></div>
<div class="r" style="left:0.30px;top:0.50px;width:4.50px;height:4.20px;background:#5e94b0;"></div>
<span class="t" style="left:4.90px;top:4.62px;font-size:14px;line-height:14px;color:#fff;letter-spacing:-0.183px;">23658133189_...</span>
</div>
<div class="r" style="left:1025.00px;top:330.00px;width:141.70px;height:1.00px;background:#c4c4c4;"></div>
<div class="r" style="left:1166.00px;top:326.50px;width:1.00px;height:8.00px;background:#c4c4c4;"></div>
<div class="r" style="left:669.60px;top:352.00px;width:237.90px;height:1.00px;background:#c4c4c4;"></div>
<div class="r" style="left:669.00px;top:348.50px;width:1.00px;height:8.00px;background:#c4c4c4;"></div>
<div class="clip" style="left:907.50px;top:341.70px;width:110.00px;height:20.5px;background:#8fb283">
<div class="r" style="left:107.70px;top:0.00px;width:2.30px;height:20.50px;background:#4f8d41;"></div>
<div class="r" style="left:0.30px;top:0.50px;width:4.50px;height:4.20px;background:#5e94b0;"></div>
<span class="t" style="left:4.90px;top:4.30px;font-size:14px;line-height:14px;color:#fff;letter-spacing:-0.060px;">23730328680...</span>
</div>
<div class="r" style="left:1017.50px;top:352.00px;width:146.20px;height:1.00px;background:#c4c4c4;"></div>
<div class="r" style="left:1163.00px;top:348.50px;width:1.00px;height:8.00px;background:#c4c4c4;"></div>
<div class="r" style="left:669.60px;top:374.00px;width:491.10px;height:1.00px;background:#c4c4c4;"></div>
<div class="r" style="left:669.00px;top:370.50px;width:1.00px;height:8.00px;background:#c4c4c4;"></div>
<div class="clip" style="left:1160.70px;top:364.02px;width:15.30px;height:20.5px;background:#8fb283">
<div class="r" style="left:0.30px;top:0.50px;width:4.50px;height:4.20px;background:#5e94b0;"></div>
<span class="t" style="left:4.70px;top:3.98px;font-size:14px;line-height:14px;color:#fff;">24</span>
</div>
<div class="clip" style="left:669.50px;top:386.34px;width:497.50px;height:20.5px;background:#4e8840">
<div class="r" style="left:0.00px;top:0.00px;width:1.50px;height:20.50px;background:#7ea874;"></div>
<div class="r" style="left:0.30px;top:0.50px;width:4.50px;height:4.20px;background:#4a7fa0;"></div>
<span class="t" style="left:4.40px;top:4.66px;font-size:14px;line-height:14px;color:#fff;letter-spacing:0.116px;">24856572158_43497494d1_o.jpg (microsoftedge.github.io)</span>
</div>
<div class="r" style="left:1167.00px;top:393.00px;width:1.50px;height:7.00px;background:#c4c4c4;"></div>
<div class="r" style="left:669.60px;top:419.00px;width:500.40px;height:1.00px;background:#c4c4c4;"></div>
<div class="r" style="left:669.00px;top:415.50px;width:1.00px;height:8.00px;background:#c4c4c4;"></div>
<div class="clip" style="left:1170.00px;top:408.66px;width:6.00px;height:20.5px;background:#8fb283">
<div class="r" style="left:0.30px;top:0.50px;width:4.50px;height:4.20px;background:#4a7fa0;"></div>
</div>
<div class="r" style="left:669.60px;top:441.00px;width:502.90px;height:1.00px;background:#c4c4c4;"></div>
<div class="r" style="left:669.00px;top:437.50px;width:1.00px;height:8.00px;background:#c4c4c4;"></div>
<div class="clip" style="left:1172.50px;top:430.98px;width:3.50px;height:20.5px;background:#6ea060">
<div class="r" style="left:0.30px;top:0.50px;width:4.50px;height:4.20px;background:#4a7fa0;"></div>
</div>
<div class="r" style="left:1183px;top:197.5px;width:0;height:0;border-left:6px solid transparent;border-right:6px solid transparent;border-bottom:8px solid #8a8a8a"></div>
<div class="r" style="left:1183.00px;top:216.30px;width:12.00px;height:26.70px;background:#8c8c8c;border-radius:6px;"></div>
<div class="r" style="left:1183px;top:437.5px;width:0;height:0;border-left:6px solid transparent;border-right:6px solid transparent;border-top:8px solid #8a8a8a"></div>
<div class="r" style="left:1px;top:203px;width:1169px;height:244px;border:5px solid #ec1c24;"></div>
<div class="r" style="left:0.00px;top:457.00px;width:1200.00px;height:10.00px;background:#eef3fc;"></div>
<div class="r" style="left:0.00px;top:459.00px;width:1200.00px;height:1.00px;background:#dfe8fa;"></div>
<div class="r" style="left:0.00px;top:465.50px;width:1200.00px;height:1.50px;background:#d9e4f9;"></div>
<div class="r" style="left:595.50px;top:460.80px;width:1.80px;height:1.80px;background:#555;"></div>
<div class="r" style="left:599.00px;top:460.80px;width:1.80px;height:1.80px;background:#555;"></div>
<div class="r" style="left:602.50px;top:460.80px;width:1.80px;height:1.80px;background:#555;"></div>
<div class="r" style="left:0.00px;top:467.00px;width:1180.00px;height:80.00px;background:#ffffff;"></div>
<div class="r" style="left:0.00px;top:547.00px;width:1180.00px;height:144.00px;background:#f5f8fe;"></div>
<div class="r" style="left:92.00px;top:467.00px;width:1.00px;height:224.00px;background:#dfe8f9;"></div>
<div class="r" style="left:183.75px;top:467.00px;width:1.00px;height:224.00px;background:#dfe8f9;"></div>
<div class="r" style="left:275.50px;top:467.00px;width:1.00px;height:224.00px;background:#dfe8f9;"></div>
<div class="r" style="left:367.25px;top:467.00px;width:1.00px;height:224.00px;background:#dfe8f9;"></div>
<div class="r" style="left:459.00px;top:467.00px;width:1.00px;height:224.00px;background:#dfe8f9;"></div>
<div class="r" style="left:550.75px;top:467.00px;width:1.00px;height:224.00px;background:#dfe8f9;"></div>
<div class="r" style="left:642.50px;top:467.00px;width:1.00px;height:224.00px;background:#dfe8f9;"></div>
<div class="r" style="left:734.25px;top:467.00px;width:1.00px;height:224.00px;background:#dfe8f9;"></div>
<div class="r" style="left:826.00px;top:467.00px;width:1.00px;height:224.00px;background:#dfe8f9;"></div>
<div class="r" style="left:917.75px;top:467.00px;width:1.00px;height:224.00px;background:#dfe8f9;"></div>
<div class="r" style="left:1009.50px;top:467.00px;width:1.00px;height:224.00px;background:#dfe8f9;"></div>
<div class="r" style="left:1101.25px;top:467.00px;width:1.00px;height:224.00px;background:#dfe8f9;"></div>
<div class="r" style="left:0.00px;top:493.00px;width:1178.00px;height:1.00px;background:#e9e9e9;"></div>
<div class="r" style="left:0.00px;top:520.60px;width:1178.00px;height:1.00px;background:#e9e9e9;"></div>
<div class="r" style="left:0.00px;top:690.80px;width:1200.00px;height:1.20px;background:#cfdcf6;"></div>
<span class="t" style="left:25.70px;top:475.00px;font-size:13px;line-height:13px;color:#0a0a0a;letter-spacing:0.074px;">Frames</span>
<span class="t" style="left:24.40px;top:503.00px;font-size:13px;line-height:13px;color:#0a0a0a;">Zeiteinteilungen</span>
<div class="r" style="left:3.800px;top:467px;width:1.2px;height:224px;background:repeating-linear-gradient(180deg,#f6c777 0,#f6c777 7px,transparent 7px,transparent 11px)"></div>
<div class="r" style="left:1.50px;top:522.00px;width:2.60px;height:169.00px;background:#2a6bd6;"></div>
<div class="r" style="left:1.50px;top:522.00px;width:12.50px;height:2.40px;background:#2a6bd6;"></div>
<div class="r" style="left:128.00px;top:547.20px;width:3.50px;height:20.50px;background:#d9d9d9;overflow:hidden;">
</div>
<div class="r" style="left:131.50px;top:547.20px;width:15.50px;height:20.50px;background:#c6c6c6;overflow:hidden;">
</div>
<div class="r" style="left:147.00px;top:547.20px;width:3.00px;height:20.50px;background:#d9d9d9;overflow:hidden;">
</div>
<div class="r" style="left:150.00px;top:547.20px;width:43.00px;height:20.50px;background:#c6c6c6;overflow:hidden;">
<span class="t" style="left:6.20px;top:2.80px;font-size:14px;line-height:14px;color:#fff;letter-spacing:-0.582px;">Task</span>
</div>
<div class="r" style="left:193.00px;top:547.20px;width:2.00px;height:20.50px;background:#d9d9d9;overflow:hidden;">
</div>
<div class="r" style="left:195.00px;top:547.20px;width:5.00px;height:20.50px;background:#c6c6c6;overflow:hidden;">
</div>
<div class="r" style="left:200.00px;top:547.20px;width:6.00px;height:20.50px;background:#d9d9d9;overflow:hidden;">
</div>
<div class="r" style="left:202.00px;top:547.20px;width:1.00px;height:20.50px;background:#c6c6c6;overflow:hidden;">
</div>
<div class="r" style="left:204.50px;top:547.20px;width:0.70px;height:20.50px;background:#c6c6c6;overflow:hidden;">
</div>
<div class="r" style="left:295.40px;top:547.20px;width:3.60px;height:20.50px;background:#d9d9d9;overflow:hidden;">
</div>
<div class="r" style="left:296.50px;top:547.20px;width:1.00px;height:20.50px;background:#c6c6c6;overflow:hidden;">
</div>
<div class="r" style="left:299.00px;top:547.20px;width:5.80px;height:20.50px;background:#e2e2e2;overflow:hidden;">
</div>
<div class="r" style="left:301.50px;top:547.20px;width:1.50px;height:20.50px;background:#c6c6c6;overflow:hidden;">
</div>
<div class="r" style="left:304.80px;top:547.20px;width:50.50px;height:20.50px;background:#c6c6c6;overflow:hidden;">
<span class="t" style="left:11.60px;top:2.80px;font-size:14px;line-height:14px;color:#fff;letter-spacing:-0.849px;">Task</span>
</div>
<div class="hatch" style="left:355.30px;top:547.20px;width:35.10px;height:20.5px"></div>
<div class="tri" style="left:380.40px;top:547.20px"></div>
<div class="r" style="left:390.40px;top:547.20px;width:5.20px;height:20.50px;background:#d9d9d9;overflow:hidden;">
</div>
<div class="r" style="left:401.00px;top:547.20px;width:3.60px;height:20.50px;background:#d9d9d9;overflow:hidden;">
</div>
<div class="r" style="left:412.00px;top:547.20px;width:45.90px;height:20.50px;background:#c6c6c6;overflow:hidden;">
<span class="t" style="left:6.40px;top:2.80px;font-size:14px;line-height:14px;color:#fff;letter-spacing:-0.549px;">Task</span>
</div>
<div class="hatch" style="left:457.90px;top:547.20px;width:90.10px;height:20.5px"></div>
<div class="tri" style="left:538.00px;top:547.20px"></div>
<div class="r" style="left:549.50px;top:547.20px;width:1.50px;height:20.50px;background:#d9d9d9;overflow:hidden;">
</div>
<div class="r" style="left:552.00px;top:547.20px;width:3.00px;height:20.50px;background:#d9d9d9;overflow:hidden;">
</div>
<div class="r" style="left:556.50px;top:547.20px;width:2.10px;height:20.50px;background:#e2e2e2;overflow:hidden;">
</div>
<div class="r" style="left:559.70px;top:547.20px;width:46.10px;height:20.50px;background:#c6c6c6;overflow:hidden;">
<span class="t" style="left:6.70px;top:2.80px;font-size:14px;line-height:14px;color:#fff;letter-spacing:-0.415px;">Task</span>
</div>
<div class="hatch" style="left:605.80px;top:547.20px;width:85.60px;height:20.5px"></div>
<div class="tri" style="left:681.40px;top:547.20px"></div>
<div class="r" style="left:691.40px;top:547.20px;width:3.40px;height:20.50px;background:#d9d9d9;overflow:hidden;">
</div>
<div class="r" style="left:695.60px;top:547.20px;width:45.20px;height:20.50px;background:#c6c6c6;overflow:hidden;">
<span class="t" style="left:5.80px;top:2.80px;font-size:14px;line-height:14px;color:#fff;letter-spacing:-0.482px;">Task</span>
</div>
<div class="hatch" style="left:740.80px;top:547.20px;width:162.90px;height:20.5px"></div>
<div class="tri" style="left:893.70px;top:547.20px"></div>
<div class="r" style="left:903.70px;top:547.20px;width:4.30px;height:20.50px;background:#d9d9d9;overflow:hidden;">
</div>
<div class="r" style="left:908.80px;top:547.20px;width:46.20px;height:20.50px;background:#c6c6c6;overflow:hidden;">
</div>
<div class="hatch" style="left:955.00px;top:547.20px;width:202.50px;height:20.5px"></div>
<div class="tri" style="left:1147.50px;top:547.20px"></div>
<div class="r" style="left:1157.50px;top:547.20px;width:14.50px;height:20.50px;background:#d9d9d9;overflow:hidden;">
</div>
<div class="r" style="left:1161.00px;top:547.20px;width:1.00px;height:20.50px;background:#c6c6c6;overflow:hidden;">
</div>
<div class="r" style="left:1166.50px;top:547.20px;width:1.00px;height:20.50px;background:#c6c6c6;overflow:hidden;">
</div>
<div class="r" style="left:1170.00px;top:547.20px;width:1.00px;height:20.50px;background:#c6c6c6;overflow:hidden;">
</div>
<div class="r" style="left:132.30px;top:569.43px;width:0.90px;height:20.50px;background:#8ab4f8;overflow:hidden;">
</div>
<div class="r" style="left:134.60px;top:569.43px;width:0.90px;height:20.50px;background:#8ab4f8;overflow:hidden;">
</div>
<div class="r" style="left:136.30px;top:569.43px;width:11.00px;height:20.50px;background:#c6c6c6;overflow:hidden;">
</div>
<div class="r" style="left:138.00px;top:569.43px;width:1.00px;height:20.50px;background:#e2e2e2;overflow:hidden;">
</div>
<div class="r" style="left:141.00px;top:569.43px;width:1.00px;height:20.50px;background:#e2e2e2;overflow:hidden;">
</div>
<div class="r" style="left:144.50px;top:569.43px;width:1.00px;height:20.50px;background:#e2e2e2;overflow:hidden;">
</div>
<div class="r" style="left:148.30px;top:569.43px;width:43.70px;height:20.50px;background:#2f7de9;overflow:hidden;">
<span class="t" style="left:7.40px;top:3.57px;font-size:14px;line-height:14px;color:#fff;letter-spacing:0.063px;">P...L</span>
</div>
<div class="r" style="left:201.20px;top:569.43px;width:2.80px;height:20.50px;background:#8ab4f8;overflow:hidden;">
</div>
<div class="r" style="left:296.70px;top:569.43px;width:4.30px;height:20.50px;background:#8ab4f8;overflow:hidden;">
</div>
<div class="r" style="left:305.50px;top:569.43px;width:1.70px;height:20.50px;background:#96700f;overflow:hidden;">
</div>
<div class="r" style="left:307.20px;top:569.43px;width:2.00px;height:20.50px;background:#c9b47c;overflow:hidden;">
</div>
<div class="r" style="left:309.20px;top:569.43px;width:70.30px;height:20.50px;background:#8259f0;overflow:hidden;">
<span class="t" style="left:6.20px;top:3.57px;font-size:14px;line-height:14px;color:#fff;letter-spacing:-0.356px;">R...e</span>
</div>
<div class="r" style="left:353.00px;top:569.43px;width:1.00px;height:20.50px;background:#a88cf5;overflow:hidden;">
</div>
<div class="r" style="left:383.00px;top:569.43px;width:1.00px;height:20.50px;background:#c9b47c;overflow:hidden;">
</div>
<div class="r" style="left:393.30px;top:569.43px;width:0.90px;height:20.50px;background:#b9a6f7;overflow:hidden;">
</div>
<div class="r" style="left:419.70px;top:569.43px;width:127.90px;height:20.50px;background:#96700f;overflow:hidden;">
</div>
<div class="r" style="left:548.30px;top:569.43px;width:0.90px;height:20.50px;background:#8ab4f8;overflow:hidden;">
</div>
<div class="r" style="left:550.20px;top:569.43px;width:0.90px;height:20.50px;background:#8ab4f8;overflow:hidden;">
</div>
<div class="r" style="left:552.00px;top:569.43px;width:0.90px;height:20.50px;background:#8ab4f8;overflow:hidden;">
</div>
<div class="r" style="left:553.60px;top:569.43px;width:0.90px;height:20.50px;background:#8ab4f8;overflow:hidden;">
</div>
<div class="r" style="left:549.20px;top:569.43px;width:0.80px;height:20.50px;background:#c6c6c6;overflow:hidden;">
</div>
<div class="r" style="left:556.00px;top:569.43px;width:3.00px;height:20.50px;background:#96700f;overflow:hidden;">
</div>
<div class="r" style="left:559.00px;top:569.43px;width:1.60px;height:20.50px;background:#c9b47c;overflow:hidden;">
</div>
<div class="r" style="left:561.60px;top:569.43px;width:127.90px;height:20.50px;background:#96700f;overflow:hidden;">
</div>
<div class="r" style="left:692.00px;top:569.43px;width:0.90px;height:20.50px;background:#c9b47c;overflow:hidden;">
</div>
<div class="r" style="left:694.70px;top:569.43px;width:0.90px;height:20.50px;background:#c9b47c;overflow:hidden;">
</div>
<div class="r" style="left:699.00px;top:569.43px;width:198.50px;height:20.50px;background:#8259f0;overflow:hidden;">
</div>
<div class="r" style="left:800.20px;top:569.43px;width:1.00px;height:20.50px;background:#a88cf5;overflow:hidden;">
</div>
<span class="t" style="left:705.20px;top:573.00px;font-size:14px;line-height:14px;color:#fff;letter-spacing:-0.415px;">Recalc...</span>
<span class="t" style="left:760.40px;top:573.00px;font-size:13.5px;line-height:13.5px;color:#15102e;letter-spacing:-0.334px;">Format</span>
<span class="t" style="left:808.40px;top:574.00px;font-size:12px;line-height:12px;color:#15102e;letter-spacing:0.558px;">Layout</span>
<div class="r" style="left:903.30px;top:569.43px;width:0.90px;height:20.50px;background:#c9b47c;overflow:hidden;">
</div>
<div class="r" style="left:906.20px;top:569.43px;width:2.80px;height:20.50px;background:#8ab4f8;overflow:hidden;">
</div>
<div class="r" style="left:909.00px;top:569.43px;width:4.50px;height:20.50px;background:#8259f0;overflow:hidden;">
</div>
<div class="r" style="left:1158.40px;top:569.43px;width:3.40px;height:20.50px;background:#8ab4f8;overflow:hidden;">
</div>
<div class="r" style="left:1163.00px;top:569.43px;width:0.80px;height:20.50px;background:#c9b47c;overflow:hidden;">
</div>
<div class="r" style="left:1164.70px;top:569.43px;width:7.30px;height:20.50px;background:#8ab4f8;overflow:hidden;">
</div>
<div class="r" style="left:1167.00px;top:569.43px;width:1.00px;height:20.50px;background:#c9b47c;overflow:hidden;">
</div>
<div class="r" style="left:1170.00px;top:569.43px;width:1.00px;height:20.50px;background:#c9b47c;overflow:hidden;">
</div>
<div class="r" style="left:145.30px;top:591.66px;width:0.80px;height:20.50px;background:#8ab4f8;overflow:hidden;">
</div>
<div class="r" style="left:149.30px;top:591.66px;width:1.10px;height:20.50px;background:#b9a6f7;overflow:hidden;">
</div>
<div class="r" style="left:157.40px;top:591.66px;width:32.10px;height:20.50px;background:#96700f;overflow:hidden;">
<span class="t" style="left:6.40px;top:3.34px;font-size:14px;line-height:14px;color:#fff;letter-spacing:-0.822px;">E...</span>
</div>
<div class="r" style="left:190.60px;top:591.66px;width:3.00px;height:20.50px;background:#d6c593;overflow:hidden;">
</div>
<div class="r" style="left:334.00px;top:591.66px;width:1.40px;height:20.50px;background:#c9b47c;overflow:hidden;">
</div>
<div class="r" style="left:335.40px;top:591.66px;width:18.60px;height:20.50px;background:#9b86f3;overflow:hidden;">
</div>
<div class="r" style="left:339.00px;top:591.66px;width:1.30px;height:20.50px;background:#8ab4f8;overflow:hidden;">
</div>
<div class="r" style="left:342.70px;top:591.66px;width:1.30px;height:20.50px;background:#8ab4f8;overflow:hidden;">
</div>
<div class="r" style="left:346.00px;top:591.66px;width:1.30px;height:20.50px;background:#8ab4f8;overflow:hidden;">
</div>
<div class="r" style="left:349.50px;top:591.66px;width:1.30px;height:20.50px;background:#8ab4f8;overflow:hidden;">
</div>
<div class="r" style="left:352.00px;top:591.66px;width:1.30px;height:20.50px;background:#8ab4f8;overflow:hidden;">
</div>
<div class="r" style="left:419.70px;top:591.66px;width:42.50px;height:20.50px;background:#96700f;overflow:hidden;">
<span class="t" style="left:5.70px;top:3.34px;font-size:14px;line-height:14px;color:#fff;letter-spacing:0.168px;">C...t</span>
</div>
<div class="r" style="left:462.20px;top:591.66px;width:1.80px;height:20.50px;background:#c9b47c;overflow:hidden;">
</div>
<div class="r" style="left:465.80px;top:591.66px;width:81.80px;height:20.50px;background:#c0406f;overflow:hidden;">
<span class="t" style="left:5.60px;top:3.34px;font-size:14px;line-height:14px;color:#fff;letter-spacing:0.062px;">(ano...ous)</span>
</div>
<div class="r" style="left:549.30px;top:591.66px;width:0.90px;height:20.50px;background:#c9b47c;overflow:hidden;">
</div>
<div class="r" style="left:553.00px;top:591.66px;width:0.90px;height:20.50px;background:#c9b47c;overflow:hidden;">
</div>
<div class="r" style="left:556.00px;top:591.66px;width:3.00px;height:20.50px;background:#c0406f;overflow:hidden;">
</div>
<div class="r" style="left:561.60px;top:591.66px;width:105.20px;height:20.50px;background:#c23fae;overflow:hidden;">
<span class="t" style="left:6.40px;top:3.34px;font-size:14px;line-height:14px;color:#1a1040;letter-spacing:-0.599px;">(anonym)</span>
</div>
<div class="r" style="left:668.00px;top:591.66px;width:22.80px;height:20.50px;background:#8ab4f8;overflow:hidden;">
</div>
<div class="r" style="left:672.00px;top:591.66px;width:0.80px;height:20.50px;background:#a5c6fa;overflow:hidden;">
</div>
<div class="r" style="left:676.50px;top:591.66px;width:0.80px;height:20.50px;background:#a5c6fa;overflow:hidden;">
</div>
<div class="r" style="left:681.00px;top:591.66px;width:0.80px;height:20.50px;background:#a5c6fa;overflow:hidden;">
</div>
<div class="r" style="left:685.50px;top:591.66px;width:0.80px;height:20.50px;background:#a5c6fa;overflow:hidden;">
</div>
<div class="r" style="left:695.20px;top:591.66px;width:0.80px;height:20.50px;background:#c9b47c;overflow:hidden;">
</div>
<div class="r" style="left:704.00px;top:591.66px;width:1.20px;height:20.50px;background:#c9b47c;overflow:hidden;">
</div>
<div class="r" style="left:705.40px;top:591.66px;width:2.10px;height:20.50px;background:#8259f0;overflow:hidden;">
</div>
<div class="r" style="left:707.50px;top:591.66px;width:3.10px;height:20.50px;background:#8ab4f8;overflow:hidden;">
</div>
<div class="r" style="left:145.30px;top:613.89px;width:0.80px;height:20.50px;background:#8ab4f8;overflow:hidden;">
</div>
<div class="r" style="left:157.40px;top:613.89px;width:9.40px;height:20.50px;background:#96700f;overflow:hidden;">
</div>
<div class="r" style="left:168.20px;top:613.89px;width:21.30px;height:20.50px;background:#4360c4;overflow:hidden;">
</div>
<div class="r" style="left:190.60px;top:613.89px;width:3.00px;height:20.50px;background:#d6c593;overflow:hidden;">
</div>
<div class="r" style="left:300.00px;top:613.89px;width:0.80px;height:20.50px;background:#c9b47c;overflow:hidden;">
</div>
<div class="r" style="left:306.60px;top:613.89px;width:0.90px;height:20.50px;background:#d98cc0;overflow:hidden;">
</div>
<div class="r" style="left:310.30px;top:613.89px;width:1.00px;height:20.50px;background:#b9a6f7;overflow:hidden;">
</div>
<div class="r" style="left:334.30px;top:613.89px;width:0.90px;height:20.50px;background:#b9a6f7;overflow:hidden;">
</div>
<div class="r" style="left:342.00px;top:613.89px;width:0.90px;height:20.50px;background:#b9a6f7;overflow:hidden;">
</div>
<div class="r" style="left:344.80px;top:613.89px;width:0.90px;height:20.50px;background:#b9a6f7;overflow:hidden;">
</div>
<div class="r" style="left:347.50px;top:613.89px;width:0.90px;height:20.50px;background:#b9a6f7;overflow:hidden;">
</div>
<div class="r" style="left:419.70px;top:613.89px;width:42.00px;height:20.50px;background:#96700f;overflow:hidden;">
<span class="t" style="left:5.70px;top:3.11px;font-size:14px;line-height:14px;color:#fff;letter-spacing:-0.131px;">C...e</span>
</div>
<div class="r" style="left:464.00px;top:613.89px;width:31.70px;height:20.50px;background:#c0406f;overflow:hidden;">
<span class="t" style="left:7.40px;top:3.11px;font-size:14px;line-height:14px;color:#fff;letter-spacing:-0.097px;">(...</span>
</div>
<div class="r" style="left:495.70px;top:613.89px;width:3.70px;height:20.50px;background:#c9b47c;overflow:hidden;">
</div>
<div class="r" style="left:499.40px;top:613.89px;width:48.20px;height:20.50px;background:#c0406f;overflow:hidden;">
<span class="t" style="left:6.30px;top:3.11px;font-size:14px;line-height:14px;color:#fff;letter-spacing:-0.290px;">(a...s)</span>
</div>
<div class="r" style="left:556.00px;top:613.89px;width:3.00px;height:20.50px;background:#c0406f;overflow:hidden;">
</div>
<div class="r" style="left:561.60px;top:613.89px;width:97.40px;height:20.50px;background:#c23fae;overflow:hidden;">
<span class="t" style="left:5.80px;top:3.11px;font-size:14px;line-height:14px;color:#fff;letter-spacing:0.243px;">popula...llery</span>
</div>
<div class="r" style="left:660.00px;top:613.89px;width:6.80px;height:20.50px;background:#c23fae;overflow:hidden;">
</div>
<div class="r" style="left:695.20px;top:613.89px;width:0.80px;height:20.50px;background:#c9b47c;overflow:hidden;">
</div>
<div class="r" style="left:704.30px;top:613.89px;width:0.90px;height:20.50px;background:#8259f0;overflow:hidden;">
</div>
<div class="r" style="left:145.30px;top:636.12px;width:0.80px;height:20.50px;background:#8ab4f8;overflow:hidden;">
</div>
<div class="r" style="left:157.40px;top:636.12px;width:8.60px;height:20.50px;background:#96700f;overflow:hidden;">
</div>
<div class="r" style="left:168.20px;top:636.12px;width:21.30px;height:20.50px;background:#4360c4;overflow:hidden;">
</div>
<div class="r" style="left:191.00px;top:636.12px;width:2.60px;height:20.50px;background:#d6c593;overflow:hidden;">
</div>
<div class="r" style="left:307.60px;top:636.12px;width:0.80px;height:20.50px;background:#c9b47c;overflow:hidden;">
</div>
<div class="r" style="left:308.40px;top:636.12px;width:0.80px;height:20.50px;background:#8ab4f8;overflow:hidden;">
</div>
<div class="r" style="left:465.80px;top:636.12px;width:25.20px;height:20.50px;background:#c0406f;overflow:hidden;">
</div>
<div class="r" style="left:495.70px;top:636.12px;width:22.60px;height:20.50px;background:#c9b47c;overflow:hidden;">
</div>
<div class="r" style="left:496.00px;top:636.12px;width:1.50px;height:20.50px;background:#e3a3bb;overflow:hidden;">
</div>
<div class="r" style="left:499.50px;top:636.12px;width:1.00px;height:20.50px;background:#bda25e;overflow:hidden;">
</div>
<div class="r" style="left:503.00px;top:636.12px;width:1.00px;height:20.50px;background:#d6c79a;overflow:hidden;">
</div>
<div class="r" style="left:506.50px;top:636.12px;width:1.00px;height:20.50px;background:#bda25e;overflow:hidden;">
</div>
<div class="r" style="left:509.50px;top:636.12px;width:1.00px;height:20.50px;background:#d6c79a;overflow:hidden;">
</div>
<div class="r" style="left:513.00px;top:636.12px;width:3.50px;height:20.50px;background:#e3a3bb;overflow:hidden;">
</div>
<div class="r" style="left:516.80px;top:636.12px;width:1.20px;height:20.50px;background:#b08f3c;overflow:hidden;">
</div>
<div class="r" style="left:518.30px;top:636.12px;width:5.70px;height:20.50px;background:#c0406f;overflow:hidden;">
</div>
<div class="r" style="left:521.00px;top:636.12px;width:1.00px;height:20.50px;background:#e3a3bb;overflow:hidden;">
</div>
<div class="r" style="left:524.00px;top:636.12px;width:4.60px;height:20.50px;background:#c9b47c;overflow:hidden;">
</div>
<div class="r" style="left:528.70px;top:636.12px;width:18.90px;height:20.50px;background:#c0406f;overflow:hidden;">
</div>
<div class="r" style="left:557.00px;top:636.12px;width:2.00px;height:20.50px;background:#c0406f;overflow:hidden;">
</div>
<div class="r" style="left:561.40px;top:636.12px;width:0.90px;height:20.50px;background:#c9b47c;overflow:hidden;">
</div>
<div class="r" style="left:563.00px;top:636.12px;width:16.00px;height:20.50px;background:#c23fae;overflow:hidden;">
</div>
<div class="r" style="left:580.30px;top:636.12px;width:11.50px;height:20.50px;background:#c23fae;overflow:hidden;">
</div>
<div class="r" style="left:594.50px;top:636.12px;width:10.50px;height:20.50px;background:#c23fae;overflow:hidden;">
</div>
<div class="r" style="left:606.00px;top:636.12px;width:8.00px;height:20.50px;background:#c23fae;overflow:hidden;">
</div>
<div class="r" style="left:616.80px;top:636.12px;width:14.20px;height:20.50px;background:#c23fae;overflow:hidden;">
</div>
<div class="r" style="left:632.20px;top:636.12px;width:17.20px;height:20.50px;background:#c23fae;overflow:hidden;">
</div>
<div class="r" style="left:650.80px;top:636.12px;width:8.20px;height:20.50px;background:#c23fae;overflow:hidden;">
</div>
<div class="r" style="left:592.30px;top:636.12px;width:1.20px;height:20.50px;background:#8ab4f8;overflow:hidden;">
</div>
<div class="r" style="left:659.00px;top:636.12px;width:7.80px;height:20.50px;background:#d58bc9;overflow:hidden;">
</div>
<div class="r" style="left:661.50px;top:636.12px;width:1.00px;height:20.50px;background:#ecc4e6;overflow:hidden;">
</div>
<div class="r" style="left:664.50px;top:636.12px;width:0.80px;height:20.50px;background:#ecc4e6;overflow:hidden;">
</div>
<div class="r" style="left:308.20px;top:658.35px;width:0.70px;height:20.50px;background:#c9c9c9;overflow:hidden;">
</div>
<div class="r" style="left:465.80px;top:658.35px;width:25.20px;height:20.50px;background:#c0406f;overflow:hidden;">
</div>
<div class="r" style="left:491.50px;top:658.35px;width:18.30px;height:20.50px;background:#fafbff;overflow:hidden;">
</div>
<div class="r" style="left:510.40px;top:658.35px;width:5.60px;height:20.50px;background:#e3a3bb;overflow:hidden;">
</div>
<div class="r" style="left:518.30px;top:658.35px;width:4.70px;height:20.50px;background:#c0406f;overflow:hidden;">
</div>
<div class="r" style="left:523.00px;top:658.35px;width:5.00px;height:20.50px;background:#e3a3bb;overflow:hidden;">
</div>
<div class="r" style="left:529.00px;top:658.35px;width:18.60px;height:20.50px;background:#c0406f;overflow:hidden;">
</div>
<div class="r" style="left:532.50px;top:658.35px;width:0.80px;height:20.50px;background:#e9b9cb;overflow:hidden;">
</div>
<div class="r" style="left:537.00px;top:658.35px;width:0.80px;height:20.50px;background:#e9b9cb;overflow:hidden;">
</div>
<div class="r" style="left:540.30px;top:658.35px;width:0.80px;height:20.50px;background:#e9b9cb;overflow:hidden;">
</div>
<div class="r" style="left:543.50px;top:658.35px;width:0.80px;height:20.50px;background:#e9b9cb;overflow:hidden;">
</div>
<div class="r" style="left:557.00px;top:658.35px;width:1.50px;height:20.50px;background:#c0406f;overflow:hidden;">
</div>
<div class="r" style="left:563.90px;top:658.35px;width:95.40px;height:20.50px;background:#8ab4f8;overflow:hidden;">
</div>
<div class="r" style="left:569.00px;top:658.35px;width:1.00px;height:20.50px;background:#e3a3bb;overflow:hidden;">
</div>
<div class="r" style="left:578.00px;top:658.35px;width:1.00px;height:20.50px;background:#a5c6fa;overflow:hidden;">
</div>
<div class="r" style="left:586.50px;top:658.35px;width:1.00px;height:20.50px;background:#c9b47c;overflow:hidden;">
</div>
<div class="r" style="left:589.00px;top:658.35px;width:1.00px;height:20.50px;background:#e3a3bb;overflow:hidden;">
</div>
<div class="r" style="left:597.50px;top:658.35px;width:1.00px;height:20.50px;background:#c9b47c;overflow:hidden;">
</div>
<div class="r" style="left:603.00px;top:658.35px;width:1.00px;height:20.50px;background:#e3a3bb;overflow:hidden;">
</div>
<div class="r" style="left:607.00px;top:658.35px;width:1.00px;height:20.50px;background:#c9b47c;overflow:hidden;">
</div>
<div class="r" style="left:613.00px;top:658.35px;width:1.00px;height:20.50px;background:#a5c6fa;overflow:hidden;">
</div>
<div class="r" style="left:619.50px;top:658.35px;width:1.00px;height:20.50px;background:#e3a3bb;overflow:hidden;">
</div>
<div class="r" style="left:624.00px;top:658.35px;width:1.00px;height:20.50px;background:#c9b47c;overflow:hidden;">
</div>
<div class="r" style="left:627.00px;top:658.35px;width:1.00px;height:20.50px;background:#c9b47c;overflow:hidden;">
</div>
<div class="r" style="left:634.00px;top:658.35px;width:1.00px;height:20.50px;background:#a5c6fa;overflow:hidden;">
</div>
<div class="r" style="left:641.00px;top:658.35px;width:1.00px;height:20.50px;background:#e3a3bb;overflow:hidden;">
</div>
<div class="r" style="left:645.50px;top:658.35px;width:1.00px;height:20.50px;background:#c9b47c;overflow:hidden;">
</div>
<div class="r" style="left:651.00px;top:658.35px;width:1.00px;height:20.50px;background:#e3a3bb;overflow:hidden;">
</div>
<div class="r" style="left:655.00px;top:658.35px;width:1.00px;height:20.50px;background:#c9b47c;overflow:hidden;">
</div>
<div class="r" style="left:659.30px;top:658.35px;width:7.50px;height:20.50px;background:#c0a767;overflow:hidden;">
</div>
<div class="r" style="left:167.00px;top:658.35px;width:34.00px;height:21.50px;background:#fbfcff;"></div>
<span class="t" style="left:168.40px;top:660.00px;font-size:23px;line-height:23px;color:#000;letter-spacing:0.274px;">Lilli</span>
<div class="r" style="left:171.00px;top:680.58px;width:1.00px;height:10.42px;background:#c9b47c;overflow:hidden;">
</div>
<div class="r" style="left:173.50px;top:680.58px;width:1.50px;height:10.42px;background:#c9b47c;overflow:hidden;">
</div>
<div class="r" style="left:177.00px;top:680.58px;width:7.00px;height:10.42px;background:#bfa565;overflow:hidden;">
</div>
<div class="r" style="left:180.00px;top:680.58px;width:1.00px;height:10.42px;background:#d8c9a0;overflow:hidden;">
</div>
<div class="r" style="left:186.00px;top:680.58px;width:2.00px;height:10.42px;background:#96700f;overflow:hidden;">
</div>
<div class="r" style="left:188.00px;top:680.58px;width:2.80px;height:10.42px;background:#8fa0c8;overflow:hidden;">
</div>
<div class="r" style="left:465.80px;top:680.58px;width:25.20px;height:10.42px;background:#c0406f;overflow:hidden;">
</div>
<div class="r" style="left:491.50px;top:680.58px;width:18.30px;height:10.42px;background:#fafbff;overflow:hidden;">
</div>
<div class="r" style="left:510.40px;top:680.58px;width:1.60px;height:10.42px;background:#e3a3bb;overflow:hidden;">
</div>
<div class="r" style="left:513.00px;top:680.58px;width:1.20px;height:10.42px;background:#c9b47c;overflow:hidden;">
</div>
<div class="r" style="left:519.30px;top:680.58px;width:1.00px;height:10.42px;background:#c0406f;overflow:hidden;">
</div>
<div class="r" style="left:521.50px;top:680.58px;width:2.00px;height:10.42px;background:#c9b47c;overflow:hidden;">
</div>
<div class="r" style="left:527.00px;top:680.58px;width:3.00px;height:10.42px;background:#c0406f;overflow:hidden;">
</div>
<div class="r" style="left:530.00px;top:680.58px;width:1.00px;height:10.42px;background:#c9b47c;overflow:hidden;">
</div>
<div class="r" style="left:533.00px;top:680.58px;width:3.00px;height:10.42px;background:#c0406f;overflow:hidden;">
</div>
<div class="r" style="left:537.00px;top:680.58px;width:2.00px;height:10.42px;background:#c0406f;overflow:hidden;">
</div>
<div class="r" style="left:540.00px;top:680.58px;width:7.60px;height:10.42px;background:#c2a060;overflow:hidden;">
</div>
<div class="r" style="left:543.00px;top:680.58px;width:1.00px;height:10.42px;background:#c0406f;overflow:hidden;">
</div>
<div class="r" style="left:557.00px;top:680.58px;width:1.00px;height:10.42px;background:#c9b47c;overflow:hidden;">
</div>
<div class="r" style="left:559.50px;top:680.58px;width:1.00px;height:10.42px;background:#c0406f;overflow:hidden;">
</div>
<div class="r" style="left:570.00px;top:680.58px;width:1.50px;height:10.42px;background:#8ab4f8;overflow:hidden;">
</div>
<div class="r" style="left:578.00px;top:680.58px;width:1.00px;height:10.42px;background:#8ab4f8;overflow:hidden;">
</div>
<div class="r" style="left:586.00px;top:680.58px;width:4.70px;height:10.42px;background:#8ab4f8;overflow:hidden;">
</div>
<div class="r" style="left:594.50px;top:680.58px;width:1.00px;height:10.42px;background:#8ab4f8;overflow:hidden;">
</div>
<div class="r" style="left:597.00px;top:680.58px;width:4.70px;height:10.42px;background:#8ab4f8;overflow:hidden;">
</div>
<div class="r" style="left:604.50px;top:680.58px;width:1.50px;height:10.42px;background:#8ab4f8;overflow:hidden;">
</div>
<div class="r" style="left:607.30px;top:680.58px;width:2.20px;height:10.42px;background:#8ab4f8;overflow:hidden;">
</div>
<div class="r" style="left:618.70px;top:680.58px;width:2.30px;height:10.42px;background:#8ab4f8;overflow:hidden;">
</div>
<div class="r" style="left:624.00px;top:680.58px;width:2.50px;height:10.42px;background:#8ab4f8;overflow:hidden;">
</div>
<div class="r" style="left:633.40px;top:680.58px;width:1.60px;height:10.42px;background:#8ab4f8;overflow:hidden;">
</div>
<div class="r" style="left:636.30px;top:680.58px;width:1.70px;height:10.42px;background:#8ab4f8;overflow:hidden;">
</div>
<div class="r" style="left:640.00px;top:680.58px;width:3.00px;height:10.42px;background:#8ab4f8;overflow:hidden;">
</div>
<div class="r" style="left:645.00px;top:680.58px;width:2.00px;height:10.42px;background:#8ab4f8;overflow:hidden;">
</div>
<div class="r" style="left:649.00px;top:680.58px;width:1.50px;height:10.42px;background:#8ab4f8;overflow:hidden;">
</div>
<div class="r" style="left:651.50px;top:680.58px;width:1.50px;height:10.42px;background:#8ab4f8;overflow:hidden;">
</div>
<div class="r" style="left:658.00px;top:680.58px;width:3.00px;height:10.42px;background:#8ab4f8;overflow:hidden;">
</div>
<div class="r" style="left:661.00px;top:680.58px;width:2.00px;height:10.42px;background:#c9b47c;overflow:hidden;">
</div>
<div class="r" style="left:665.00px;top:680.58px;width:3.00px;height:10.42px;background:#c9b47c;overflow:hidden;">
</div>
<span class="t" style="left:426.10px;top:574.00px;font-size:14px;line-height:14px;color:#fff;letter-spacing:-0.472px;">Auswerten des Skripts</span>
<span class="t" style="left:568.40px;top:573.00px;font-size:14px;line-height:14px;color:#fff;letter-spacing:-0.466px;">Ausführen von Microtasks</span>
<span class="t" style="left:914.40px;top:552.00px;font-size:13px;line-height:13px;color:#0a0a0a;letter-spacing:-0.334px;">Aufgabe</span>
<div class="r" style="left:309.600px;top:471px;width:1.2px;height:220px;background:repeating-linear-gradient(180deg,#7fb0ea 0,#7fb0ea 8px,transparent 8px,transparent 13.400px)"></div>
<div class="r" style="left:383px;top:471px;width:1.2px;height:220px;background:repeating-linear-gradient(180deg,#d96a6e 0,#d96a6e 8px,transparent 8px,transparent 13.400px)"></div>
<div class="r" style="left:22.00px;top:529.00px;width:373.00px;height:18.00px;background:#ffffff;"></div>
<div class="r" style="left:9.300px;top:532px;width:0;height:0;border-left:5.300px solid transparent;border-right:5.300px solid transparent;border-top:8.300px solid #8a8a8a"></div>
<span class="t" style="left:26.10px;top:530.00px;font-size:14px;line-height:14px;color:#0a0a0a;letter-spacing:0.137px;">Haupt - https://microsoftedge.github.io/Demos/</span>
<span class="t" style="left:319.40px;top:530.00px;font-size:14px;line-height:14px;color:#0a0a0a;letter-spacing:-0.637px;">photo-gallery/</span>
<div class="r" style="left:309.40px;top:497.00px;width:36.60px;height:20.70px;background:#0b63ce;"></div>
<span class="t" style="left:314.80px;top:502.00px;font-size:13.5px;line-height:13.5px;color:#fff;letter-spacing:0.040px;">DCL</span>
<div class="r" style="left:383.00px;top:497.00px;width:18.20px;height:20.70px;background:#ad1414;"></div>
<span class="t" style="left:388.10px;top:502.00px;font-size:13.5px;line-height:13.5px;color:#fff;">L</span>
<div class="r" style="left:300.10px;top:590.40px;width:12.90px;height:23.40px;background:#eeeefb;"></div>
<span class="t" style="left:299.70px;top:592.00px;font-size:26px;line-height:26px;color:#000;letter-spacing:0.613px;">II</span>
<div class="r" style="left:1183px;top:477.5px;width:0;height:0;border-left:6px solid transparent;border-right:6px solid transparent;border-bottom:8px solid #8a8a8a"></div>
<div class="r" style="left:1183.00px;top:497.00px;width:12.00px;height:60.00px;background:#8c8c8c;border-radius:6px;"></div>
<div class="r" style="left:1183px;top:671.5px;width:0;height:0;border-left:6px solid transparent;border-right:6px solid transparent;border-top:8px solid #8a8a8a"></div>
<div class="r" style="left:0.00px;top:692.00px;width:1200.00px;height:42.00px;background:#f7f7f7;"></div>
<div class="r" style="left:0.00px;top:733.50px;width:1200.00px;height:1.00px;background:#e4e4e4;"></div>
<div class="r" style="left:0.00px;top:734.50px;width:1200.00px;height:1.00px;background:#eeeeee;"></div>
<div class="r" style="left:0.00px;top:735.50px;width:1200.00px;height:1.00px;background:#f7f7f7;"></div>
<div class="r" style="left:0.00px;top:736.00px;width:1200.00px;height:111.00px;background:#ffffff;"></div>
<div class="r" style="left:5.00px;top:695.00px;width:92.00px;height:38.00px;background:#ffffff;border-radius:5px 5px 0 0;"></div>
<div class="r" style="left:5.00px;top:730.00px;width:92.00px;height:3.00px;background:#0f6cd3;border-radius:1.500px;"></div>
<span class="t" style="left:18.10px;top:709.00px;font-size:10.5px;line-height:10.5px;color:#0a0a0a;letter-spacing:-0.224px;">Zusammenfassung</span>
<span class="t" style="left:110.60px;top:709.00px;font-size:14px;line-height:14px;color:#0a0a0a;letter-spacing:0.266px;">Bottom-Up</span>
<span class="t" style="left:213.10px;top:707.00px;font-size:13px;line-height:13px;color:#0a0a0a;letter-spacing:0.069px;">Aufrufstruktur</span>
<span class="t" style="left:297.60px;top:709.00px;font-size:14px;line-height:14px;color:#0a0a0a;letter-spacing:0.178px;">Ereignisprotokoll</span>
<div class="r" style="left:1179.50px;top:736.00px;width:20.00px;height:111.00px;background:#fafafa;"></div>
<span class="t" style="left:12.40px;top:752.00px;font-size:14px;line-height:14px;color:#0a0a0a;letter-spacing:0.407px;">Bereich: O - 1,28 s</span>
<svg style="left:0;top:736px" width="300" height="111" viewBox="0 736 300 111">
<path fill="#2f7de9" d="M86.30 783.50A72 72 0 0 1 108.91 787.14L100.12 813.73A44 44 0 0 0 86.30 811.50Z"/>
<path fill="#96700f" d="M108.91 787.14A72 72 0 0 1 157.21 868.00L129.63 863.14A44 44 0 0 0 100.12 813.73Z"/>
<path fill="#9a9a9a" d="M16.29 838.69A72 72 0 0 1 86.30 783.50L86.30 811.50A44 44 0 0 0 43.52 845.23Z"/>
<path fill="#c8c8c8" d="M15.39 868.00A72 72 0 0 1 16.29 838.69L43.52 845.23A44 44 0 0 0 42.97 863.14Z"/>
</svg>
<span class="t" style="left:247.93px;top:797.00px;font-size:14px;line-height:14px;color:#3b3b3b;letter-spacing:1.029px;">64 ms</span>
<span class="t" style="left:239.73px;top:830.00px;font-size:14px;line-height:14px;color:#3b3b3b;letter-spacing:0.926px;">282 ms</span>
<div class="r" style="left:302.50px;top:794.20px;width:15.00px;height:15.00px;background:#2f7de9;border:1px solid #dcdcdc;"></div>
<div class="r" style="left:302.50px;top:827.50px;width:15.00px;height:15.00px;background:#96700f;border:1px solid #dcdcdc;"></div>
<span class="t" style="left:331.90px;top:799.00px;font-size:14px;line-height:14px;color:#0a0a0a;letter-spacing:0.410px;">Ladevorgang</span>
<span class="t" style="left:331.90px;top:832.00px;font-size:14px;line-height:14px;color:#0a0a0a;letter-spacing:0.370px;">Skripterstellung</span>
<div class="r" style="left:1183px;top:745.5px;width:0;height:0;border-left:6px solid transparent;border-right:6px solid transparent;border-bottom:8px solid #8a8a8a"></div>
<div class="r" style="left:1183.00px;top:764.00px;width:12.00px;height:22.00px;background:#8c8c8c;border-radius:6px;"></div>
<div class="r" style="left:1183px;top:828px;width:0;height:0;border-left:6px solid transparent;border-right:6px solid transparent;border-top:8px solid #8a8a8a"></div>
</div></div></body></html>
